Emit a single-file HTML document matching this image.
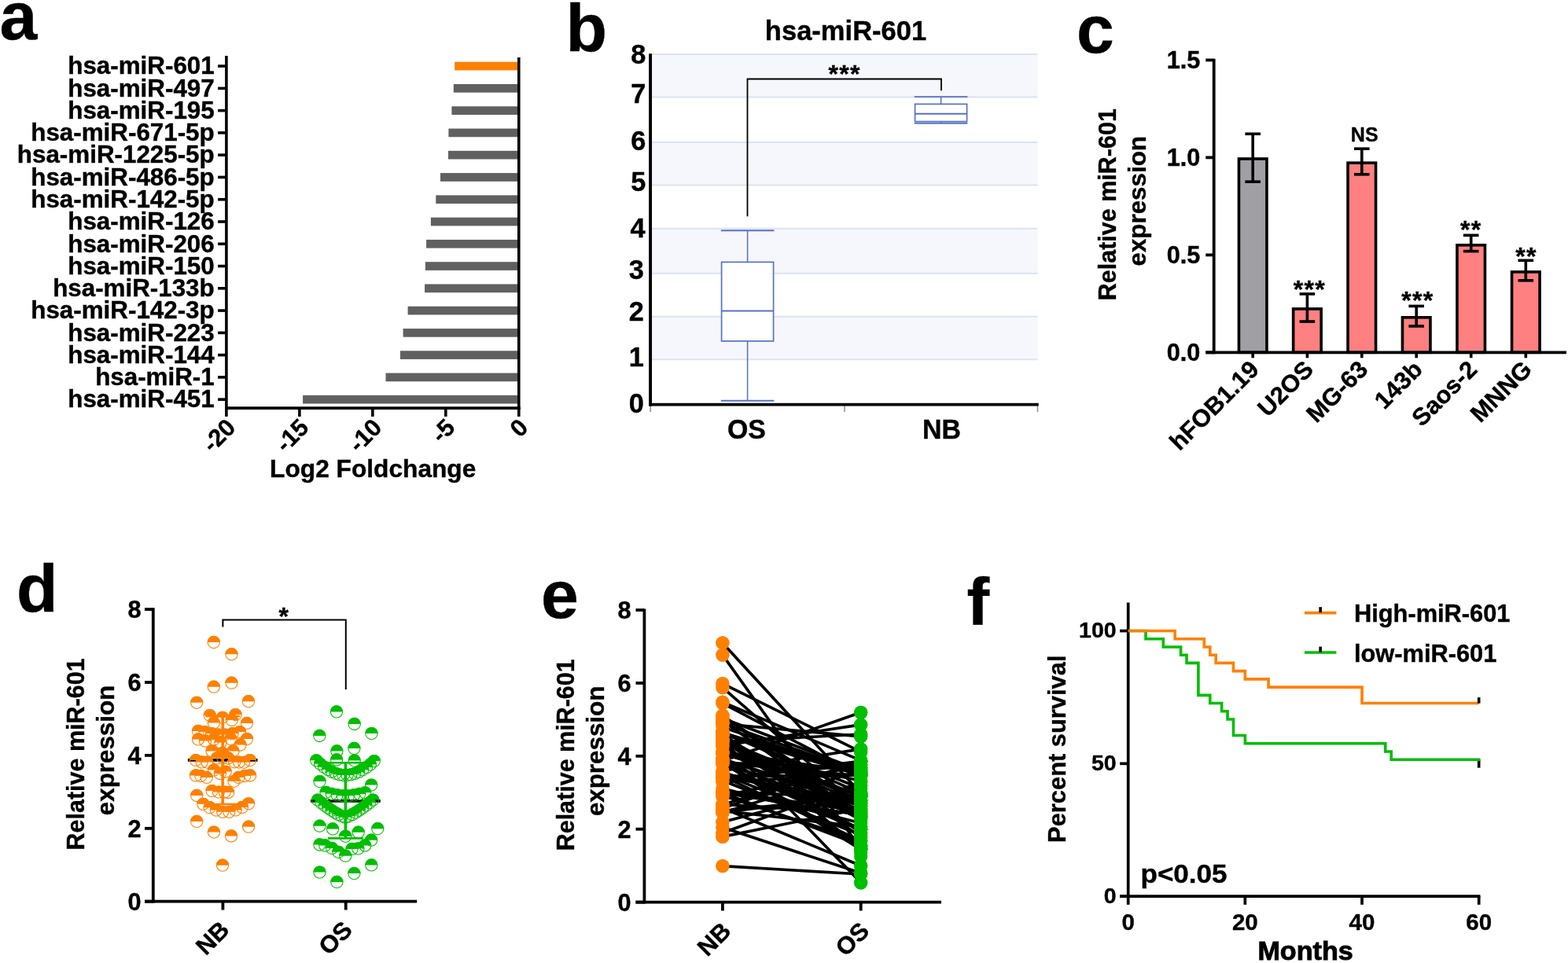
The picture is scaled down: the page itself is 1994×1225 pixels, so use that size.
<!DOCTYPE html>
<html lang="en">
<head>
<meta charset="utf-8">
<title>miR-601 expression in osteosarcoma</title>
<style>
html,body{margin:0;padding:0;background:#fff;}
body{width:1994px;height:1225px;overflow:hidden;}
svg{display:block;}
svg text{font-family:'Liberation Sans', Arial, Helvetica, sans-serif;font-weight:bold;fill:#000;}
</style>
</head>
<body>
<svg width="1994" height="1225" viewBox="0 0 1994 1225">
<rect width="1994" height="1225" fill="#fff"/>
<text x="-0.5" y="49.8" font-size="86" stroke="#000" stroke-width="0.4">a</text>
<text x="719.5" y="65" font-size="86" stroke="#000" stroke-width="0.4">b</text>
<text x="1369" y="67.2" font-size="86" stroke="#000" stroke-width="0.4">c</text>
<text x="21" y="778" font-size="86" stroke="#000" stroke-width="0.4">d</text>
<text x="688" y="786.2" font-size="86" stroke="#000" stroke-width="0.4">e</text>
<text x="1229.5" y="795" font-size="86" stroke="#000" stroke-width="0.4">f</text>
<g id="pa">
<rect x="578.2" y="78.75" width="81.6" height="10.7" fill="#ff8000"/>
<line x1="277.1" y1="84.1" x2="287.9" y2="84.1" stroke="#000" stroke-width="3.6"/>
<text transform="translate(272.7 94.4) scale(1.0215 1)" font-size="30.7" text-anchor="end" stroke="#000" stroke-width="0.4">hsa-miR-601</text>
<rect x="576.8" y="107.02" width="83" height="10.7" fill="#606060"/>
<line x1="277.1" y1="112.37" x2="287.9" y2="112.37" stroke="#000" stroke-width="3.6"/>
<text transform="translate(272.7 122.67) scale(1.0215 1)" font-size="30.7" text-anchor="end" stroke="#000" stroke-width="0.4">hsa-miR-497</text>
<rect x="574.4" y="135.29" width="85.4" height="10.7" fill="#606060"/>
<line x1="277.1" y1="140.64" x2="287.9" y2="140.64" stroke="#000" stroke-width="3.6"/>
<text transform="translate(272.7 150.94) scale(1.0215 1)" font-size="30.7" text-anchor="end" stroke="#000" stroke-width="0.4">hsa-miR-195</text>
<rect x="570.4" y="163.56" width="89.4" height="10.7" fill="#606060"/>
<line x1="277.1" y1="168.91" x2="287.9" y2="168.91" stroke="#000" stroke-width="3.6"/>
<text transform="translate(272.7 179.21) scale(1.0215 1)" font-size="30.7" text-anchor="end" stroke="#000" stroke-width="0.4">hsa-miR-671-5p</text>
<rect x="570" y="191.83" width="89.8" height="10.7" fill="#606060"/>
<line x1="277.1" y1="197.18" x2="287.9" y2="197.18" stroke="#000" stroke-width="3.6"/>
<text transform="translate(272.7 207.48) scale(1.0215 1)" font-size="30.7" text-anchor="end" stroke="#000" stroke-width="0.4">hsa-miR-1225-5p</text>
<rect x="560" y="220.1" width="99.8" height="10.7" fill="#606060"/>
<line x1="277.1" y1="225.45" x2="287.9" y2="225.45" stroke="#000" stroke-width="3.6"/>
<text transform="translate(272.7 235.75) scale(1.0215 1)" font-size="30.7" text-anchor="end" stroke="#000" stroke-width="0.4">hsa-miR-486-5p</text>
<rect x="554.3" y="248.37" width="105.5" height="10.7" fill="#606060"/>
<line x1="277.1" y1="253.72" x2="287.9" y2="253.72" stroke="#000" stroke-width="3.6"/>
<text transform="translate(272.7 264.02) scale(1.0215 1)" font-size="30.7" text-anchor="end" stroke="#000" stroke-width="0.4">hsa-miR-142-5p</text>
<rect x="547.9" y="276.64" width="111.9" height="10.7" fill="#606060"/>
<line x1="277.1" y1="281.99" x2="287.9" y2="281.99" stroke="#000" stroke-width="3.6"/>
<text transform="translate(272.7 292.29) scale(1.0215 1)" font-size="30.7" text-anchor="end" stroke="#000" stroke-width="0.4">hsa-miR-126</text>
<rect x="542.1" y="304.91" width="117.7" height="10.7" fill="#606060"/>
<line x1="277.1" y1="310.26" x2="287.9" y2="310.26" stroke="#000" stroke-width="3.6"/>
<text transform="translate(272.7 320.56) scale(1.0215 1)" font-size="30.7" text-anchor="end" stroke="#000" stroke-width="0.4">hsa-miR-206</text>
<rect x="540.9" y="333.18" width="118.9" height="10.7" fill="#606060"/>
<line x1="277.1" y1="338.53" x2="287.9" y2="338.53" stroke="#000" stroke-width="3.6"/>
<text transform="translate(272.7 348.83) scale(1.0215 1)" font-size="30.7" text-anchor="end" stroke="#000" stroke-width="0.4">hsa-miR-150</text>
<rect x="540.1" y="361.45" width="119.7" height="10.7" fill="#606060"/>
<line x1="277.1" y1="366.8" x2="287.9" y2="366.8" stroke="#000" stroke-width="3.6"/>
<text transform="translate(272.7 377.1) scale(1.0215 1)" font-size="30.7" text-anchor="end" stroke="#000" stroke-width="0.4">hsa-miR-133b</text>
<rect x="518.6" y="389.72" width="141.2" height="10.7" fill="#606060"/>
<line x1="277.1" y1="395.07" x2="287.9" y2="395.07" stroke="#000" stroke-width="3.6"/>
<text transform="translate(272.7 405.37) scale(1.0215 1)" font-size="30.7" text-anchor="end" stroke="#000" stroke-width="0.4">hsa-miR-142-3p</text>
<rect x="512.6" y="417.99" width="147.2" height="10.7" fill="#606060"/>
<line x1="277.1" y1="423.34" x2="287.9" y2="423.34" stroke="#000" stroke-width="3.6"/>
<text transform="translate(272.7 433.64) scale(1.0215 1)" font-size="30.7" text-anchor="end" stroke="#000" stroke-width="0.4">hsa-miR-223</text>
<rect x="509" y="446.26" width="150.8" height="10.7" fill="#606060"/>
<line x1="277.1" y1="451.61" x2="287.9" y2="451.61" stroke="#000" stroke-width="3.6"/>
<text transform="translate(272.7 461.91) scale(1.0215 1)" font-size="30.7" text-anchor="end" stroke="#000" stroke-width="0.4">hsa-miR-144</text>
<rect x="490.5" y="474.53" width="169.3" height="10.7" fill="#606060"/>
<line x1="277.1" y1="479.88" x2="287.9" y2="479.88" stroke="#000" stroke-width="3.6"/>
<text transform="translate(272.7 490.18) scale(1.0215 1)" font-size="30.7" text-anchor="end" stroke="#000" stroke-width="0.4">hsa-miR-1</text>
<rect x="385.1" y="502.8" width="274.7" height="10.7" fill="#606060"/>
<line x1="277.1" y1="508.15" x2="287.9" y2="508.15" stroke="#000" stroke-width="3.6"/>
<text transform="translate(272.7 518.45) scale(1.0215 1)" font-size="30.7" text-anchor="end" stroke="#000" stroke-width="0.4">hsa-miR-451</text>
<line x1="287.9" y1="71" x2="287.9" y2="520.9" stroke="#000" stroke-width="3.6"/>
<line x1="659.8" y1="73" x2="659.8" y2="520.9" stroke="#000" stroke-width="3.6"/>
<line x1="286.1" y1="519.1" x2="661.6" y2="519.1" stroke="#000" stroke-width="3.6"/>
<line x1="287.9" y1="519.1" x2="287.9" y2="529.9" stroke="#000" stroke-width="3.6"/>
<text transform="translate(301.4 545.6) rotate(-45)" font-size="30.7" text-anchor="end" stroke="#000" stroke-width="0.4">-20</text>
<line x1="380.88" y1="519.1" x2="380.88" y2="529.9" stroke="#000" stroke-width="3.6"/>
<text transform="translate(394.38 545.6) rotate(-45)" font-size="30.7" text-anchor="end" stroke="#000" stroke-width="0.4">-15</text>
<line x1="473.85" y1="519.1" x2="473.85" y2="529.9" stroke="#000" stroke-width="3.6"/>
<text transform="translate(487.35 545.6) rotate(-45)" font-size="30.7" text-anchor="end" stroke="#000" stroke-width="0.4">-10</text>
<line x1="566.82" y1="519.1" x2="566.82" y2="529.9" stroke="#000" stroke-width="3.6"/>
<text transform="translate(580.32 545.6) rotate(-45)" font-size="30.7" text-anchor="end" stroke="#000" stroke-width="0.4">-5</text>
<line x1="659.8" y1="519.1" x2="659.8" y2="529.9" stroke="#000" stroke-width="3.6"/>
<text transform="translate(673.3 545.6) rotate(-45)" font-size="30.7" text-anchor="end" stroke="#000" stroke-width="0.4">0</text>
<text transform="translate(474.2 606.9) scale(1.0320 1)" font-size="30.7" text-anchor="middle" stroke="#000" stroke-width="0.4">Log2 Foldchange</text>
</g>
<g id="pb">
<rect x="829" y="68.9" width="490.5" height="54.7" fill="#f6f7fc"/>
<rect x="829" y="181.1" width="490.5" height="54.4" fill="#f6f7fc"/>
<rect x="829" y="290.8" width="490.5" height="56.9" fill="#f6f7fc"/>
<rect x="829" y="402.7" width="490.5" height="54.5" fill="#f6f7fc"/>
<line x1="829" y1="68.9" x2="1319.5" y2="68.9" stroke="#dde2f0" stroke-width="2"/>
<line x1="829" y1="123.6" x2="1319.5" y2="123.6" stroke="#dde2f0" stroke-width="2"/>
<line x1="829" y1="181.1" x2="1319.5" y2="181.1" stroke="#dde2f0" stroke-width="2"/>
<line x1="829" y1="235.5" x2="1319.5" y2="235.5" stroke="#dde2f0" stroke-width="2"/>
<line x1="829" y1="290.8" x2="1319.5" y2="290.8" stroke="#dde2f0" stroke-width="2"/>
<line x1="829" y1="347.7" x2="1319.5" y2="347.7" stroke="#dde2f0" stroke-width="2"/>
<line x1="829" y1="402.7" x2="1319.5" y2="402.7" stroke="#dde2f0" stroke-width="2"/>
<line x1="829" y1="457.2" x2="1319.5" y2="457.2" stroke="#dde2f0" stroke-width="2"/>
<line x1="950.6" y1="293.2" x2="950.6" y2="509.7" stroke="#5572c8" stroke-width="1.53"/>
<rect x="917.6" y="333.4" width="66" height="100.5" fill="#fff" stroke="#5572c8" stroke-width="1.7"/>
<line x1="916.8" y1="293.2" x2="984.4" y2="293.2" stroke="#5572c8" stroke-width="1.95"/>
<line x1="916.8" y1="509.7" x2="984.4" y2="509.7" stroke="#5572c8" stroke-width="1.95"/>
<line x1="917.6" y1="395.4" x2="983.6" y2="395.4" stroke="#5572c8" stroke-width="1.95"/>
<line x1="1196.6" y1="123.1" x2="1196.6" y2="156.8" stroke="#5572c8" stroke-width="1.53"/>
<rect x="1163.6" y="132.4" width="66" height="22.2" fill="#fff" stroke="#5572c8" stroke-width="1.7"/>
<line x1="1162.8" y1="123.1" x2="1230.4" y2="123.1" stroke="#5572c8" stroke-width="1.95"/>
<line x1="1162.8" y1="156.8" x2="1230.4" y2="156.8" stroke="#5572c8" stroke-width="1.95"/>
<line x1="1163.6" y1="144.8" x2="1229.6" y2="144.8" stroke="#5572c8" stroke-width="1.95"/>
<path d="M950.5,275.3 V100.5 H1197 V115.3" stroke="#000" stroke-width="1.8" fill="none"/>
<text x="1074.1" y="104.9" font-size="32" text-anchor="middle" stroke="#000" stroke-width="0.4" letter-spacing="1.3">***</text>
<line x1="827.2" y1="514.6" x2="827.2" y2="524.1" stroke="#8a8a8a" stroke-width="1.4"/>
<line x1="1074" y1="514.6" x2="1074" y2="524.1" stroke="#8a8a8a" stroke-width="1.4"/>
<line x1="1319.5" y1="514.6" x2="1319.5" y2="524.1" stroke="#8a8a8a" stroke-width="1.4"/>
<line x1="827.1" y1="68.3" x2="827.1" y2="516.6" stroke="#000" stroke-width="3.9"/>
<line x1="825.2" y1="514.6" x2="1320.7" y2="514.6" stroke="#000" stroke-width="3.9"/>
<text transform="translate(821.3 80.5) scale(0.9650 1)" font-size="35.6" text-anchor="end" stroke="#000" stroke-width="0.4">8</text>
<text transform="translate(821.3 131.2) scale(0.9650 1)" font-size="35.6" text-anchor="end" stroke="#000" stroke-width="0.4">7</text>
<text transform="translate(821.3 190.7) scale(0.9650 1)" font-size="35.6" text-anchor="end" stroke="#000" stroke-width="0.4">6</text>
<text transform="translate(821.3 243.2) scale(0.9650 1)" font-size="35.6" text-anchor="end" stroke="#000" stroke-width="0.4">5</text>
<text transform="translate(820.6 301.7) scale(0.9650 1)" font-size="35.6" text-anchor="end" stroke="#000" stroke-width="0.4">4</text>
<text transform="translate(818.8 355.2) scale(0.9650 1)" font-size="35.6" text-anchor="end" stroke="#000" stroke-width="0.4">3</text>
<text transform="translate(818.8 407.5) scale(0.9650 1)" font-size="35.6" text-anchor="end" stroke="#000" stroke-width="0.4">2</text>
<text transform="translate(818.8 465.9) scale(0.9650 1)" font-size="35.6" text-anchor="end" stroke="#000" stroke-width="0.4">1</text>
<text transform="translate(818.8 525.3) scale(0.9650 1)" font-size="35.6" text-anchor="end" stroke="#000" stroke-width="0.4">0</text>
<text transform="translate(1075.5 51.2) scale(1.0100 1)" font-size="34.2" text-anchor="middle" stroke="#000" stroke-width="0.4">hsa-miR-601</text>
<text transform="translate(949.4 558.1) scale(0.9750 1)" font-size="34.8" text-anchor="middle" stroke="#000" stroke-width="0.4">OS</text>
<text transform="translate(1197.5 558.1) scale(0.9750 1)" font-size="34.8" text-anchor="middle" stroke="#000" stroke-width="0.4">NB</text>
</g>
<g id="pc">
<rect x="1575.45" y="202" width="35.5" height="246.3" fill="#a0a0a4" stroke="#000" stroke-width="3.6"/>
<line x1="1593.2" y1="170.3" x2="1593.2" y2="231.2" stroke="#000" stroke-width="3.6"/>
<line x1="1583.4" y1="170.3" x2="1603" y2="170.3" stroke="#000" stroke-width="3.6"/>
<line x1="1583.4" y1="231.2" x2="1603" y2="231.2" stroke="#000" stroke-width="3.6"/>
<line x1="1593.2" y1="448.3" x2="1593.2" y2="455.3" stroke="#000" stroke-width="3.6"/>
<text transform="translate(1602.7 471.8) rotate(-45) scale(1.0150 1)" font-size="30.7" text-anchor="end" stroke="#000" stroke-width="0.4">hFOB1.19</text>
<rect x="1644.65" y="392.9" width="35.5" height="55.4" fill="#ff8080" stroke="#000" stroke-width="3.6"/>
<line x1="1662.4" y1="373.9" x2="1662.4" y2="409" stroke="#000" stroke-width="3.6"/>
<line x1="1652.6" y1="373.9" x2="1672.2" y2="373.9" stroke="#000" stroke-width="3.6"/>
<line x1="1652.6" y1="409" x2="1672.2" y2="409" stroke="#000" stroke-width="3.6"/>
<line x1="1662.4" y1="448.3" x2="1662.4" y2="455.3" stroke="#000" stroke-width="3.6"/>
<text transform="translate(1671.9 471.8) rotate(-45) scale(1.0150 1)" font-size="30.7" text-anchor="end" stroke="#000" stroke-width="0.4">U2OS</text>
<rect x="1714.05" y="207.2" width="35.5" height="241.1" fill="#ff8080" stroke="#000" stroke-width="3.6"/>
<line x1="1731.8" y1="189.2" x2="1731.8" y2="221.8" stroke="#000" stroke-width="3.6"/>
<line x1="1722" y1="189.2" x2="1741.6" y2="189.2" stroke="#000" stroke-width="3.6"/>
<line x1="1722" y1="221.8" x2="1741.6" y2="221.8" stroke="#000" stroke-width="3.6"/>
<line x1="1731.8" y1="448.3" x2="1731.8" y2="455.3" stroke="#000" stroke-width="3.6"/>
<text transform="translate(1741.3 471.8) rotate(-45) scale(1.0150 1)" font-size="30.7" text-anchor="end" stroke="#000" stroke-width="0.4">MG-63</text>
<rect x="1783.45" y="403.8" width="35.5" height="44.5" fill="#ff8080" stroke="#000" stroke-width="3.6"/>
<line x1="1801.2" y1="389.4" x2="1801.2" y2="414.9" stroke="#000" stroke-width="3.6"/>
<line x1="1791.4" y1="389.4" x2="1811" y2="389.4" stroke="#000" stroke-width="3.6"/>
<line x1="1791.4" y1="414.9" x2="1811" y2="414.9" stroke="#000" stroke-width="3.6"/>
<line x1="1801.2" y1="448.3" x2="1801.2" y2="455.3" stroke="#000" stroke-width="3.6"/>
<text transform="translate(1810.7 471.8) rotate(-45) scale(1.0150 1)" font-size="30.7" text-anchor="end" stroke="#000" stroke-width="0.4">143b</text>
<rect x="1852.95" y="311.8" width="35.5" height="136.5" fill="#ff8080" stroke="#000" stroke-width="3.6"/>
<line x1="1870.7" y1="299.3" x2="1870.7" y2="319.6" stroke="#000" stroke-width="3.6"/>
<line x1="1860.9" y1="299.3" x2="1880.5" y2="299.3" stroke="#000" stroke-width="3.6"/>
<line x1="1860.9" y1="319.6" x2="1880.5" y2="319.6" stroke="#000" stroke-width="3.6"/>
<line x1="1870.7" y1="448.3" x2="1870.7" y2="455.3" stroke="#000" stroke-width="3.6"/>
<text transform="translate(1880.2 471.8) rotate(-45) scale(1.0150 1)" font-size="30.7" text-anchor="end" stroke="#000" stroke-width="0.4">Saos-2</text>
<rect x="1922.55" y="345.9" width="35.5" height="102.4" fill="#ff8080" stroke="#000" stroke-width="3.6"/>
<line x1="1940.3" y1="331.3" x2="1940.3" y2="356.8" stroke="#000" stroke-width="3.6"/>
<line x1="1930.5" y1="331.3" x2="1950.1" y2="331.3" stroke="#000" stroke-width="3.6"/>
<line x1="1930.5" y1="356.8" x2="1950.1" y2="356.8" stroke="#000" stroke-width="3.6"/>
<line x1="1940.3" y1="448.3" x2="1940.3" y2="455.3" stroke="#000" stroke-width="3.6"/>
<text transform="translate(1949.8 471.8) rotate(-45) scale(1.0150 1)" font-size="30.7" text-anchor="end" stroke="#000" stroke-width="0.4">MNNG</text>
<text x="1665.4" y="379.4" font-size="32" text-anchor="middle" stroke="#000" stroke-width="0.4" letter-spacing="1.3">***</text>
<text x="1735.2" y="180" font-size="25" text-anchor="middle" stroke="#000" stroke-width="0.4">NS</text>
<text x="1802.8" y="392.8" font-size="32" text-anchor="middle" stroke="#000" stroke-width="0.4" letter-spacing="1.3">***</text>
<text x="1870.7" y="303.1" font-size="32" text-anchor="middle" stroke="#000" stroke-width="0.4" letter-spacing="1.3">**</text>
<text x="1941" y="336.5" font-size="32" text-anchor="middle" stroke="#000" stroke-width="0.4" letter-spacing="1.3">**</text>
<line x1="1543.7" y1="74.7" x2="1543.7" y2="450.2" stroke="#000" stroke-width="3.8"/>
<line x1="1533.3" y1="448.3" x2="1992" y2="448.3" stroke="#000" stroke-width="3.8"/>
<line x1="1533.3" y1="448.3" x2="1543.7" y2="448.3" stroke="#000" stroke-width="3.8"/>
<text x="1526.3" y="459.3" font-size="30.7" text-anchor="end" stroke="#000" stroke-width="0.4">0.0</text>
<line x1="1533.3" y1="324.35" x2="1543.7" y2="324.35" stroke="#000" stroke-width="3.8"/>
<text x="1526.3" y="335.35" font-size="30.7" text-anchor="end" stroke="#000" stroke-width="0.4">0.5</text>
<line x1="1533.3" y1="200.4" x2="1543.7" y2="200.4" stroke="#000" stroke-width="3.8"/>
<text x="1526.3" y="211.4" font-size="30.7" text-anchor="end" stroke="#000" stroke-width="0.4">1.0</text>
<line x1="1533.3" y1="76.45" x2="1543.7" y2="76.45" stroke="#000" stroke-width="3.8"/>
<text x="1526.3" y="87.45" font-size="30.7" text-anchor="end" stroke="#000" stroke-width="0.4">1.5</text>
<text transform="translate(1419.2 260.2) rotate(-90)" font-size="30.5" text-anchor="middle" stroke="#000" stroke-width="0.4">Relative miR-601</text>
<text transform="translate(1456.7 255.8) rotate(-90) scale(1.0280 1)" font-size="30.5" text-anchor="middle" stroke="#000" stroke-width="0.4">expression</text>
</g>
<g id="pd">
<line x1="238.9" y1="966.9" x2="327.5" y2="966.9" stroke="#000" stroke-width="3.7"/>
<path d="M263.65,817 A8.15,8.15 0 0 1 279.95,817 Z" fill="#ff8000"/><circle cx="271.8" cy="817" r="7.62" fill="none" stroke="#ff8000" stroke-width="1.05"/>
<path d="M286.35,832.2 A8.15,8.15 0 0 1 302.65,832.2 Z" fill="#ff8000"/><circle cx="294.5" cy="832.2" r="7.62" fill="none" stroke="#ff8000" stroke-width="1.05"/>
<path d="M286.35,868.7 A8.15,8.15 0 0 1 302.65,868.7 Z" fill="#ff8000"/><circle cx="294.5" cy="868.7" r="7.62" fill="none" stroke="#ff8000" stroke-width="1.05"/>
<path d="M263.65,873.7 A8.15,8.15 0 0 1 279.95,873.7 Z" fill="#ff8000"/><circle cx="271.8" cy="873.7" r="7.62" fill="none" stroke="#ff8000" stroke-width="1.05"/>
<path d="M242.05,893.8 A8.15,8.15 0 0 1 258.35,893.8 Z" fill="#ff8000"/><circle cx="250.2" cy="893.8" r="7.62" fill="none" stroke="#ff8000" stroke-width="1.05"/>
<path d="M307.85,892.2 A8.15,8.15 0 0 1 324.15,892.2 Z" fill="#ff8000"/><circle cx="316" cy="892.2" r="7.62" fill="none" stroke="#ff8000" stroke-width="1.05"/>
<path d="M258.65,910.1 A8.15,8.15 0 0 1 274.95,910.1 Z" fill="#ff8000"/><circle cx="266.8" cy="910.1" r="7.62" fill="none" stroke="#ff8000" stroke-width="1.05"/>
<path d="M274.85,912.8 A8.15,8.15 0 0 1 291.15,912.8 Z" fill="#ff8000"/><circle cx="283" cy="912.8" r="7.62" fill="none" stroke="#ff8000" stroke-width="1.05"/>
<path d="M291.35,909.1 A8.15,8.15 0 0 1 307.65,909.1 Z" fill="#ff8000"/><circle cx="299.5" cy="909.1" r="7.62" fill="none" stroke="#ff8000" stroke-width="1.05"/>
<path d="M263.75,919.5 A8.15,8.15 0 0 1 280.05,919.5 Z" fill="#ff8000"/><circle cx="271.9" cy="919.5" r="7.62" fill="none" stroke="#ff8000" stroke-width="1.05"/>
<path d="M286.55,916 A8.15,8.15 0 0 1 302.85,916 Z" fill="#ff8000"/><circle cx="294.7" cy="916" r="7.62" fill="none" stroke="#ff8000" stroke-width="1.05"/>
<path d="M305.85,919.9 A8.15,8.15 0 0 1 322.15,919.9 Z" fill="#ff8000"/><circle cx="314" cy="919.9" r="7.62" fill="none" stroke="#ff8000" stroke-width="1.05"/>
<path d="M243.85,930 A8.15,8.15 0 0 1 260.15,930 Z" fill="#ff8000"/><circle cx="252" cy="930" r="7.62" fill="none" stroke="#ff8000" stroke-width="1.05"/>
<path d="M252.35,931.1 A8.15,8.15 0 0 1 268.65,931.1 Z" fill="#ff8000"/><circle cx="260.5" cy="931.1" r="7.62" fill="none" stroke="#ff8000" stroke-width="1.05"/>
<path d="M260.85,933.2 A8.15,8.15 0 0 1 277.15,933.2 Z" fill="#ff8000"/><circle cx="269" cy="933.2" r="7.62" fill="none" stroke="#ff8000" stroke-width="1.05"/>
<path d="M269.25,934.6 A8.15,8.15 0 0 1 285.55,934.6 Z" fill="#ff8000"/><circle cx="277.4" cy="934.6" r="7.62" fill="none" stroke="#ff8000" stroke-width="1.05"/>
<path d="M277.85,934.6 A8.15,8.15 0 0 1 294.15,934.6 Z" fill="#ff8000"/><circle cx="286" cy="934.6" r="7.62" fill="none" stroke="#ff8000" stroke-width="1.05"/>
<path d="M287.35,933.2 A8.15,8.15 0 0 1 303.65,933.2 Z" fill="#ff8000"/><circle cx="295.5" cy="933.2" r="7.62" fill="none" stroke="#ff8000" stroke-width="1.05"/>
<path d="M296.85,931.1 A8.15,8.15 0 0 1 313.15,931.1 Z" fill="#ff8000"/><circle cx="305" cy="931.1" r="7.62" fill="none" stroke="#ff8000" stroke-width="1.05"/>
<path d="M243.85,940.4 A8.15,8.15 0 0 1 260.15,940.4 Z" fill="#ff8000"/><circle cx="252" cy="940.4" r="7.62" fill="none" stroke="#ff8000" stroke-width="1.05"/>
<path d="M252.85,942.5 A8.15,8.15 0 0 1 269.15,942.5 Z" fill="#ff8000"/><circle cx="261" cy="942.5" r="7.62" fill="none" stroke="#ff8000" stroke-width="1.05"/>
<path d="M263.95,940.6 A8.15,8.15 0 0 1 280.25,940.6 Z" fill="#ff8000"/><circle cx="272.1" cy="940.6" r="7.62" fill="none" stroke="#ff8000" stroke-width="1.05"/>
<path d="M272.35,944.5 A8.15,8.15 0 0 1 288.65,944.5 Z" fill="#ff8000"/><circle cx="280.5" cy="944.5" r="7.62" fill="none" stroke="#ff8000" stroke-width="1.05"/>
<path d="M285.25,940.1 A8.15,8.15 0 0 1 301.55,940.1 Z" fill="#ff8000"/><circle cx="293.4" cy="940.1" r="7.62" fill="none" stroke="#ff8000" stroke-width="1.05"/>
<path d="M297.45,947.5 A8.15,8.15 0 0 1 313.75,947.5 Z" fill="#ff8000"/><circle cx="305.6" cy="947.5" r="7.62" fill="none" stroke="#ff8000" stroke-width="1.05"/>
<path d="M305.85,940.1 A8.15,8.15 0 0 1 322.15,940.1 Z" fill="#ff8000"/><circle cx="314" cy="940.1" r="7.62" fill="none" stroke="#ff8000" stroke-width="1.05"/>
<path d="M261.35,955.5 A8.15,8.15 0 0 1 277.65,955.5 Z" fill="#ff8000"/><circle cx="269.5" cy="955.5" r="7.62" fill="none" stroke="#ff8000" stroke-width="1.05"/>
<path d="M288.35,955.5 A8.15,8.15 0 0 1 304.65,955.5 Z" fill="#ff8000"/><circle cx="296.5" cy="955.5" r="7.62" fill="none" stroke="#ff8000" stroke-width="1.05"/>
<path d="M274.85,958 A8.15,8.15 0 0 1 291.15,958 Z" fill="#ff8000"/><circle cx="283" cy="958" r="7.62" fill="none" stroke="#ff8000" stroke-width="1.05"/>
<path d="M240.85,967.1 A8.15,8.15 0 0 1 257.15,967.1 Z" fill="#ff8000"/><circle cx="249" cy="967.1" r="7.62" fill="none" stroke="#ff8000" stroke-width="1.05"/>
<path d="M248.45,969.4 A8.15,8.15 0 0 1 264.75,969.4 Z" fill="#ff8000"/><circle cx="256.6" cy="969.4" r="7.62" fill="none" stroke="#ff8000" stroke-width="1.05"/>
<path d="M255.25,969.6 A8.15,8.15 0 0 1 271.55,969.6 Z" fill="#ff8000"/><circle cx="263.4" cy="969.6" r="7.62" fill="none" stroke="#ff8000" stroke-width="1.05"/>
<path d="M267.65,964.5 A8.15,8.15 0 0 1 283.95,964.5 Z" fill="#ff8000"/><circle cx="275.8" cy="964.5" r="7.62" fill="none" stroke="#ff8000" stroke-width="1.05"/>
<path d="M275.05,963.8 A8.15,8.15 0 0 1 291.35,963.8 Z" fill="#ff8000"/><circle cx="283.2" cy="963.8" r="7.62" fill="none" stroke="#ff8000" stroke-width="1.05"/>
<path d="M282.05,964.5 A8.15,8.15 0 0 1 298.35,964.5 Z" fill="#ff8000"/><circle cx="290.2" cy="964.5" r="7.62" fill="none" stroke="#ff8000" stroke-width="1.05"/>
<path d="M290.05,969.3 A8.15,8.15 0 0 1 306.35,969.3 Z" fill="#ff8000"/><circle cx="298.2" cy="969.3" r="7.62" fill="none" stroke="#ff8000" stroke-width="1.05"/>
<path d="M295.85,969.6 A8.15,8.15 0 0 1 312.15,969.6 Z" fill="#ff8000"/><circle cx="304" cy="969.6" r="7.62" fill="none" stroke="#ff8000" stroke-width="1.05"/>
<path d="M302.05,969.8 A8.15,8.15 0 0 1 318.35,969.8 Z" fill="#ff8000"/><circle cx="310.2" cy="969.8" r="7.62" fill="none" stroke="#ff8000" stroke-width="1.05"/>
<path d="M309.65,967.1 A8.15,8.15 0 0 1 325.95,967.1 Z" fill="#ff8000"/><circle cx="317.8" cy="967.1" r="7.62" fill="none" stroke="#ff8000" stroke-width="1.05"/>
<path d="M263.85,979.6 A8.15,8.15 0 0 1 280.15,979.6 Z" fill="#ff8000"/><circle cx="272" cy="979.6" r="7.62" fill="none" stroke="#ff8000" stroke-width="1.05"/>
<path d="M271.75,984 A8.15,8.15 0 0 1 288.05,984 Z" fill="#ff8000"/><circle cx="279.9" cy="984" r="7.62" fill="none" stroke="#ff8000" stroke-width="1.05"/>
<path d="M278.55,981.6 A8.15,8.15 0 0 1 294.85,981.6 Z" fill="#ff8000"/><circle cx="286.7" cy="981.6" r="7.62" fill="none" stroke="#ff8000" stroke-width="1.05"/>
<path d="M240.85,986.5 A8.15,8.15 0 0 1 257.15,986.5 Z" fill="#ff8000"/><circle cx="249" cy="986.5" r="7.62" fill="none" stroke="#ff8000" stroke-width="1.05"/>
<path d="M247.25,987 A8.15,8.15 0 0 1 263.55,987 Z" fill="#ff8000"/><circle cx="255.4" cy="987" r="7.62" fill="none" stroke="#ff8000" stroke-width="1.05"/>
<path d="M254.55,988.9 A8.15,8.15 0 0 1 270.85,988.9 Z" fill="#ff8000"/><circle cx="262.7" cy="988.9" r="7.62" fill="none" stroke="#ff8000" stroke-width="1.05"/>
<path d="M289.35,993.8 A8.15,8.15 0 0 1 305.65,993.8 Z" fill="#ff8000"/><circle cx="297.5" cy="993.8" r="7.62" fill="none" stroke="#ff8000" stroke-width="1.05"/>
<path d="M295.25,988.9 A8.15,8.15 0 0 1 311.55,988.9 Z" fill="#ff8000"/><circle cx="303.4" cy="988.9" r="7.62" fill="none" stroke="#ff8000" stroke-width="1.05"/>
<path d="M303.05,987 A8.15,8.15 0 0 1 319.35,987 Z" fill="#ff8000"/><circle cx="311.2" cy="987" r="7.62" fill="none" stroke="#ff8000" stroke-width="1.05"/>
<path d="M309.95,986.5 A8.15,8.15 0 0 1 326.25,986.5 Z" fill="#ff8000"/><circle cx="318.1" cy="986.5" r="7.62" fill="none" stroke="#ff8000" stroke-width="1.05"/>
<path d="M261.45,1006.1 A8.15,8.15 0 0 1 277.75,1006.1 Z" fill="#ff8000"/><circle cx="269.6" cy="1006.1" r="7.62" fill="none" stroke="#ff8000" stroke-width="1.05"/>
<path d="M269.75,1007.6 A8.15,8.15 0 0 1 286.05,1007.6 Z" fill="#ff8000"/><circle cx="277.9" cy="1007.6" r="7.62" fill="none" stroke="#ff8000" stroke-width="1.05"/>
<path d="M277.55,1007.6 A8.15,8.15 0 0 1 293.85,1007.6 Z" fill="#ff8000"/><circle cx="285.7" cy="1007.6" r="7.62" fill="none" stroke="#ff8000" stroke-width="1.05"/>
<path d="M281.95,1008 A8.15,8.15 0 0 1 298.25,1008 Z" fill="#ff8000"/><circle cx="290.1" cy="1008" r="7.62" fill="none" stroke="#ff8000" stroke-width="1.05"/>
<path d="M242.05,1012 A8.15,8.15 0 0 1 258.35,1012 Z" fill="#ff8000"/><circle cx="250.2" cy="1012" r="7.62" fill="none" stroke="#ff8000" stroke-width="1.05"/>
<path d="M250.25,1022.8 A8.15,8.15 0 0 1 266.55,1022.8 Z" fill="#ff8000"/><circle cx="258.4" cy="1022.8" r="7.62" fill="none" stroke="#ff8000" stroke-width="1.05"/>
<path d="M258.49,1027.17 A8.15,8.15 0 0 1 274.79,1027.17 Z" fill="#ff8000"/><circle cx="266.64" cy="1027.17" r="7.62" fill="none" stroke="#ff8000" stroke-width="1.05"/>
<path d="M266.74,1030.59 A8.15,8.15 0 0 1 283.04,1030.59 Z" fill="#ff8000"/><circle cx="274.89" cy="1030.59" r="7.62" fill="none" stroke="#ff8000" stroke-width="1.05"/>
<path d="M274.98,1032.83 A8.15,8.15 0 0 1 291.28,1032.83 Z" fill="#ff8000"/><circle cx="283.13" cy="1032.83" r="7.62" fill="none" stroke="#ff8000" stroke-width="1.05"/>
<path d="M283.22,1032.81 A8.15,8.15 0 0 1 299.52,1032.81 Z" fill="#ff8000"/><circle cx="291.37" cy="1032.81" r="7.62" fill="none" stroke="#ff8000" stroke-width="1.05"/>
<path d="M291.46,1030.46 A8.15,8.15 0 0 1 307.76,1030.46 Z" fill="#ff8000"/><circle cx="299.61" cy="1030.46" r="7.62" fill="none" stroke="#ff8000" stroke-width="1.05"/>
<path d="M299.71,1026.88 A8.15,8.15 0 0 1 316.01,1026.88 Z" fill="#ff8000"/><circle cx="307.86" cy="1026.88" r="7.62" fill="none" stroke="#ff8000" stroke-width="1.05"/>
<path d="M307.95,1022.3 A8.15,8.15 0 0 1 324.25,1022.3 Z" fill="#ff8000"/><circle cx="316.1" cy="1022.3" r="7.62" fill="none" stroke="#ff8000" stroke-width="1.05"/>
<path d="M242.05,1044.9 A8.15,8.15 0 0 1 258.35,1044.9 Z" fill="#ff8000"/><circle cx="250.2" cy="1044.9" r="7.62" fill="none" stroke="#ff8000" stroke-width="1.05"/>
<path d="M263.85,1058.6 A8.15,8.15 0 0 1 280.15,1058.6 Z" fill="#ff8000"/><circle cx="272" cy="1058.6" r="7.62" fill="none" stroke="#ff8000" stroke-width="1.05"/>
<path d="M285.95,1063.5 A8.15,8.15 0 0 1 302.25,1063.5 Z" fill="#ff8000"/><circle cx="294.1" cy="1063.5" r="7.62" fill="none" stroke="#ff8000" stroke-width="1.05"/>
<path d="M307.95,1051.7 A8.15,8.15 0 0 1 324.25,1051.7 Z" fill="#ff8000"/><circle cx="316.1" cy="1051.7" r="7.62" fill="none" stroke="#ff8000" stroke-width="1.05"/>
<path d="M274.85,1100.7 A8.15,8.15 0 0 1 291.15,1100.7 Z" fill="#ff8000"/><circle cx="283" cy="1100.7" r="7.62" fill="none" stroke="#ff8000" stroke-width="1.05"/>
<line x1="283.2" y1="911" x2="283.2" y2="1023" stroke="#ff8000" stroke-width="3.7"/>
<line x1="261.2" y1="911" x2="305.2" y2="911" stroke="#ff8000" stroke-width="2.6"/>
<line x1="261.2" y1="1023" x2="305.2" y2="1023" stroke="#ff8000" stroke-width="2.6"/>
<line x1="395" y1="1018.8" x2="483.8" y2="1018.8" stroke="#000" stroke-width="3.7"/>
<path d="M419.85,905.4 A8.15,8.15 0 0 1 436.15,905.4 Z" fill="#00be00"/><circle cx="428" cy="905.4" r="7.62" fill="none" stroke="#00be00" stroke-width="1.05"/>
<path d="M442.55,921 A8.15,8.15 0 0 1 458.85,921 Z" fill="#00be00"/><circle cx="450.7" cy="921" r="7.62" fill="none" stroke="#00be00" stroke-width="1.05"/>
<path d="M464.35,933.1 A8.15,8.15 0 0 1 480.65,933.1 Z" fill="#00be00"/><circle cx="472.5" cy="933.1" r="7.62" fill="none" stroke="#00be00" stroke-width="1.05"/>
<path d="M398.15,936 A8.15,8.15 0 0 1 414.45,936 Z" fill="#00be00"/><circle cx="406.3" cy="936" r="7.62" fill="none" stroke="#00be00" stroke-width="1.05"/>
<path d="M420.25,955.5 A8.15,8.15 0 0 1 436.55,955.5 Z" fill="#00be00"/><circle cx="428.4" cy="955.5" r="7.62" fill="none" stroke="#00be00" stroke-width="1.05"/>
<path d="M442.25,952 A8.15,8.15 0 0 1 458.55,952 Z" fill="#00be00"/><circle cx="450.4" cy="952" r="7.62" fill="none" stroke="#00be00" stroke-width="1.05"/>
<path d="M419.95,966.5 A8.15,8.15 0 0 1 436.25,966.5 Z" fill="#00be00"/><circle cx="428.1" cy="966.5" r="7.62" fill="none" stroke="#00be00" stroke-width="1.05"/>
<path d="M442.55,967.6 A8.15,8.15 0 0 1 458.85,967.6 Z" fill="#00be00"/><circle cx="450.7" cy="967.6" r="7.62" fill="none" stroke="#00be00" stroke-width="1.05"/>
<path d="M394.15,967.3 A8.15,8.15 0 0 1 410.45,967.3 Z" fill="#00be00"/><circle cx="402.3" cy="967.3" r="7.62" fill="none" stroke="#00be00" stroke-width="1.05"/>
<path d="M399.05,971.8 A8.15,8.15 0 0 1 415.35,971.8 Z" fill="#00be00"/><circle cx="407.2" cy="971.8" r="7.62" fill="none" stroke="#00be00" stroke-width="1.05"/>
<path d="M403.95,975.72 A8.15,8.15 0 0 1 420.25,975.72 Z" fill="#00be00"/><circle cx="412.1" cy="975.72" r="7.62" fill="none" stroke="#00be00" stroke-width="1.05"/>
<path d="M408.85,979.04 A8.15,8.15 0 0 1 425.15,979.04 Z" fill="#00be00"/><circle cx="417" cy="979.04" r="7.62" fill="none" stroke="#00be00" stroke-width="1.05"/>
<path d="M413.75,981.76 A8.15,8.15 0 0 1 430.05,981.76 Z" fill="#00be00"/><circle cx="421.9" cy="981.76" r="7.62" fill="none" stroke="#00be00" stroke-width="1.05"/>
<path d="M418.65,983.86 A8.15,8.15 0 0 1 434.95,983.86 Z" fill="#00be00"/><circle cx="426.8" cy="983.86" r="7.62" fill="none" stroke="#00be00" stroke-width="1.05"/>
<path d="M423.55,985.31 A8.15,8.15 0 0 1 439.85,985.31 Z" fill="#00be00"/><circle cx="431.7" cy="985.31" r="7.62" fill="none" stroke="#00be00" stroke-width="1.05"/>
<path d="M428.45,986.09 A8.15,8.15 0 0 1 444.75,986.09 Z" fill="#00be00"/><circle cx="436.6" cy="986.09" r="7.62" fill="none" stroke="#00be00" stroke-width="1.05"/>
<path d="M433.35,986.09 A8.15,8.15 0 0 1 449.65,986.09 Z" fill="#00be00"/><circle cx="441.5" cy="986.09" r="7.62" fill="none" stroke="#00be00" stroke-width="1.05"/>
<path d="M438.25,985.35 A8.15,8.15 0 0 1 454.55,985.35 Z" fill="#00be00"/><circle cx="446.4" cy="985.35" r="7.62" fill="none" stroke="#00be00" stroke-width="1.05"/>
<path d="M443.15,983.96 A8.15,8.15 0 0 1 459.45,983.96 Z" fill="#00be00"/><circle cx="451.3" cy="983.96" r="7.62" fill="none" stroke="#00be00" stroke-width="1.05"/>
<path d="M448.05,981.95 A8.15,8.15 0 0 1 464.35,981.95 Z" fill="#00be00"/><circle cx="456.2" cy="981.95" r="7.62" fill="none" stroke="#00be00" stroke-width="1.05"/>
<path d="M452.95,979.34 A8.15,8.15 0 0 1 469.25,979.34 Z" fill="#00be00"/><circle cx="461.1" cy="979.34" r="7.62" fill="none" stroke="#00be00" stroke-width="1.05"/>
<path d="M457.85,976.16 A8.15,8.15 0 0 1 474.15,976.16 Z" fill="#00be00"/><circle cx="466" cy="976.16" r="7.62" fill="none" stroke="#00be00" stroke-width="1.05"/>
<path d="M462.75,972.41 A8.15,8.15 0 0 1 479.05,972.41 Z" fill="#00be00"/><circle cx="470.9" cy="972.41" r="7.62" fill="none" stroke="#00be00" stroke-width="1.05"/>
<path d="M467.65,968.1 A8.15,8.15 0 0 1 483.95,968.1 Z" fill="#00be00"/><circle cx="475.8" cy="968.1" r="7.62" fill="none" stroke="#00be00" stroke-width="1.05"/>
<path d="M398.35,994.1 A8.15,8.15 0 0 1 414.65,994.1 Z" fill="#00be00"/><circle cx="406.5" cy="994.1" r="7.62" fill="none" stroke="#00be00" stroke-width="1.05"/>
<path d="M464.05,998.6 A8.15,8.15 0 0 1 480.35,998.6 Z" fill="#00be00"/><circle cx="472.2" cy="998.6" r="7.62" fill="none" stroke="#00be00" stroke-width="1.05"/>
<path d="M406.45,1008 A8.15,8.15 0 0 1 422.75,1008 Z" fill="#00be00"/><circle cx="414.6" cy="1008" r="7.62" fill="none" stroke="#00be00" stroke-width="1.05"/>
<path d="M413.54,1009.82 A8.15,8.15 0 0 1 429.84,1009.82 Z" fill="#00be00"/><circle cx="421.69" cy="1009.82" r="7.62" fill="none" stroke="#00be00" stroke-width="1.05"/>
<path d="M420.62,1011.31 A8.15,8.15 0 0 1 436.92,1011.31 Z" fill="#00be00"/><circle cx="428.77" cy="1011.31" r="7.62" fill="none" stroke="#00be00" stroke-width="1.05"/>
<path d="M427.71,1012.35 A8.15,8.15 0 0 1 444.01,1012.35 Z" fill="#00be00"/><circle cx="435.86" cy="1012.35" r="7.62" fill="none" stroke="#00be00" stroke-width="1.05"/>
<path d="M434.79,1012.37 A8.15,8.15 0 0 1 451.09,1012.37 Z" fill="#00be00"/><circle cx="442.94" cy="1012.37" r="7.62" fill="none" stroke="#00be00" stroke-width="1.05"/>
<path d="M441.88,1011.39 A8.15,8.15 0 0 1 458.18,1011.39 Z" fill="#00be00"/><circle cx="450.03" cy="1011.39" r="7.62" fill="none" stroke="#00be00" stroke-width="1.05"/>
<path d="M448.96,1010 A8.15,8.15 0 0 1 465.26,1010 Z" fill="#00be00"/><circle cx="457.11" cy="1010" r="7.62" fill="none" stroke="#00be00" stroke-width="1.05"/>
<path d="M456.05,1008.3 A8.15,8.15 0 0 1 472.35,1008.3 Z" fill="#00be00"/><circle cx="464.2" cy="1008.3" r="7.62" fill="none" stroke="#00be00" stroke-width="1.05"/>
<path d="M395.85,1017.6 A8.15,8.15 0 0 1 412.15,1017.6 Z" fill="#00be00"/><circle cx="404" cy="1017.6" r="7.62" fill="none" stroke="#00be00" stroke-width="1.05"/>
<path d="M400.24,1021.14 A8.15,8.15 0 0 1 416.54,1021.14 Z" fill="#00be00"/><circle cx="408.39" cy="1021.14" r="7.62" fill="none" stroke="#00be00" stroke-width="1.05"/>
<path d="M404.64,1024.53 A8.15,8.15 0 0 1 420.94,1024.53 Z" fill="#00be00"/><circle cx="412.79" cy="1024.53" r="7.62" fill="none" stroke="#00be00" stroke-width="1.05"/>
<path d="M409.03,1027.75 A8.15,8.15 0 0 1 425.33,1027.75 Z" fill="#00be00"/><circle cx="417.18" cy="1027.75" r="7.62" fill="none" stroke="#00be00" stroke-width="1.05"/>
<path d="M413.43,1030.78 A8.15,8.15 0 0 1 429.72,1030.78 Z" fill="#00be00"/><circle cx="421.57" cy="1030.78" r="7.62" fill="none" stroke="#00be00" stroke-width="1.05"/>
<path d="M417.82,1033.6 A8.15,8.15 0 0 1 434.12,1033.6 Z" fill="#00be00"/><circle cx="425.97" cy="1033.6" r="7.62" fill="none" stroke="#00be00" stroke-width="1.05"/>
<path d="M422.21,1036.14 A8.15,8.15 0 0 1 438.51,1036.14 Z" fill="#00be00"/><circle cx="430.36" cy="1036.14" r="7.62" fill="none" stroke="#00be00" stroke-width="1.05"/>
<path d="M426.61,1038.31 A8.15,8.15 0 0 1 442.91,1038.31 Z" fill="#00be00"/><circle cx="434.76" cy="1038.31" r="7.62" fill="none" stroke="#00be00" stroke-width="1.05"/>
<path d="M431,1039.8 A8.15,8.15 0 0 1 447.3,1039.8 Z" fill="#00be00"/><circle cx="439.15" cy="1039.8" r="7.62" fill="none" stroke="#00be00" stroke-width="1.05"/>
<path d="M435.39,1038.31 A8.15,8.15 0 0 1 451.69,1038.31 Z" fill="#00be00"/><circle cx="443.54" cy="1038.31" r="7.62" fill="none" stroke="#00be00" stroke-width="1.05"/>
<path d="M439.79,1036.14 A8.15,8.15 0 0 1 456.09,1036.14 Z" fill="#00be00"/><circle cx="447.94" cy="1036.14" r="7.62" fill="none" stroke="#00be00" stroke-width="1.05"/>
<path d="M444.18,1033.6 A8.15,8.15 0 0 1 460.48,1033.6 Z" fill="#00be00"/><circle cx="452.33" cy="1033.6" r="7.62" fill="none" stroke="#00be00" stroke-width="1.05"/>
<path d="M448.58,1030.78 A8.15,8.15 0 0 1 464.88,1030.78 Z" fill="#00be00"/><circle cx="456.73" cy="1030.78" r="7.62" fill="none" stroke="#00be00" stroke-width="1.05"/>
<path d="M452.97,1027.75 A8.15,8.15 0 0 1 469.27,1027.75 Z" fill="#00be00"/><circle cx="461.12" cy="1027.75" r="7.62" fill="none" stroke="#00be00" stroke-width="1.05"/>
<path d="M457.36,1024.53 A8.15,8.15 0 0 1 473.66,1024.53 Z" fill="#00be00"/><circle cx="465.51" cy="1024.53" r="7.62" fill="none" stroke="#00be00" stroke-width="1.05"/>
<path d="M461.76,1021.14 A8.15,8.15 0 0 1 478.06,1021.14 Z" fill="#00be00"/><circle cx="469.91" cy="1021.14" r="7.62" fill="none" stroke="#00be00" stroke-width="1.05"/>
<path d="M466.15,1017.6 A8.15,8.15 0 0 1 482.45,1017.6 Z" fill="#00be00"/><circle cx="474.3" cy="1017.6" r="7.62" fill="none" stroke="#00be00" stroke-width="1.05"/>
<path d="M398.35,1050.7 A8.15,8.15 0 0 1 414.65,1050.7 Z" fill="#00be00"/><circle cx="406.5" cy="1050.7" r="7.62" fill="none" stroke="#00be00" stroke-width="1.05"/>
<path d="M414.95,1054.4 A8.15,8.15 0 0 1 431.25,1054.4 Z" fill="#00be00"/><circle cx="423.1" cy="1054.4" r="7.62" fill="none" stroke="#00be00" stroke-width="1.05"/>
<path d="M431.15,1063.8 A8.15,8.15 0 0 1 447.45,1063.8 Z" fill="#00be00"/><circle cx="439.3" cy="1063.8" r="7.62" fill="none" stroke="#00be00" stroke-width="1.05"/>
<path d="M447.55,1058.7 A8.15,8.15 0 0 1 463.85,1058.7 Z" fill="#00be00"/><circle cx="455.7" cy="1058.7" r="7.62" fill="none" stroke="#00be00" stroke-width="1.05"/>
<path d="M472.15,1054.2 A8.15,8.15 0 0 1 488.45,1054.2 Z" fill="#00be00"/><circle cx="480.3" cy="1054.2" r="7.62" fill="none" stroke="#00be00" stroke-width="1.05"/>
<path d="M463.95,1068.7 A8.15,8.15 0 0 1 480.25,1068.7 Z" fill="#00be00"/><circle cx="472.1" cy="1068.7" r="7.62" fill="none" stroke="#00be00" stroke-width="1.05"/>
<path d="M398.25,1074.5 A8.15,8.15 0 0 1 414.55,1074.5 Z" fill="#00be00"/><circle cx="406.4" cy="1074.5" r="7.62" fill="none" stroke="#00be00" stroke-width="1.05"/>
<path d="M405.15,1075.5 A8.15,8.15 0 0 1 421.45,1075.5 Z" fill="#00be00"/><circle cx="413.3" cy="1075.5" r="7.62" fill="none" stroke="#00be00" stroke-width="1.05"/>
<path d="M413.95,1078.9 A8.15,8.15 0 0 1 430.25,1078.9 Z" fill="#00be00"/><circle cx="422.1" cy="1078.9" r="7.62" fill="none" stroke="#00be00" stroke-width="1.05"/>
<path d="M422.25,1083.8 A8.15,8.15 0 0 1 438.55,1083.8 Z" fill="#00be00"/><circle cx="430.4" cy="1083.8" r="7.62" fill="none" stroke="#00be00" stroke-width="1.05"/>
<path d="M431.15,1088.7 A8.15,8.15 0 0 1 447.45,1088.7 Z" fill="#00be00"/><circle cx="439.3" cy="1088.7" r="7.62" fill="none" stroke="#00be00" stroke-width="1.05"/>
<path d="M439.45,1079.9 A8.15,8.15 0 0 1 455.75,1079.9 Z" fill="#00be00"/><circle cx="447.6" cy="1079.9" r="7.62" fill="none" stroke="#00be00" stroke-width="1.05"/>
<path d="M447.25,1079.4 A8.15,8.15 0 0 1 463.55,1079.4 Z" fill="#00be00"/><circle cx="455.4" cy="1079.4" r="7.62" fill="none" stroke="#00be00" stroke-width="1.05"/>
<path d="M456.05,1075.5 A8.15,8.15 0 0 1 472.35,1075.5 Z" fill="#00be00"/><circle cx="464.2" cy="1075.5" r="7.62" fill="none" stroke="#00be00" stroke-width="1.05"/>
<path d="M464.15,1100.4 A8.15,8.15 0 0 1 480.45,1100.4 Z" fill="#00be00"/><circle cx="472.3" cy="1100.4" r="7.62" fill="none" stroke="#00be00" stroke-width="1.05"/>
<path d="M398.35,1109.6 A8.15,8.15 0 0 1 414.65,1109.6 Z" fill="#00be00"/><circle cx="406.5" cy="1109.6" r="7.62" fill="none" stroke="#00be00" stroke-width="1.05"/>
<path d="M442.25,1111.1 A8.15,8.15 0 0 1 458.55,1111.1 Z" fill="#00be00"/><circle cx="450.4" cy="1111.1" r="7.62" fill="none" stroke="#00be00" stroke-width="1.05"/>
<path d="M420.25,1121.9 A8.15,8.15 0 0 1 436.55,1121.9 Z" fill="#00be00"/><circle cx="428.4" cy="1121.9" r="7.62" fill="none" stroke="#00be00" stroke-width="1.05"/>
<line x1="439.4" y1="970.3" x2="439.4" y2="1066.4" stroke="#00be00" stroke-width="3.7"/>
<line x1="417" y1="970.3" x2="461.8" y2="970.3" stroke="#00be00" stroke-width="2.6"/>
<line x1="417" y1="1066.4" x2="461.8" y2="1066.4" stroke="#00be00" stroke-width="2.6"/>
<path d="M283.4,797.4 V788.5 H439.8 V877.1" stroke="#000" stroke-width="2" fill="none"/>
<text x="360.8" y="795.3" font-size="32" text-anchor="middle" stroke="#000" stroke-width="0.4">*</text>
<line x1="194.8" y1="773.3" x2="194.8" y2="1148.6" stroke="#000" stroke-width="3.8"/>
<line x1="184" y1="1146.7" x2="530.2" y2="1146.7" stroke="#000" stroke-width="3.8"/>
<line x1="184" y1="1146.7" x2="194.8" y2="1146.7" stroke="#000" stroke-width="3.8"/>
<text x="179.5" y="1157.7" font-size="30.7" text-anchor="end" stroke="#000" stroke-width="0.4">0</text>
<line x1="184" y1="1053.8" x2="194.8" y2="1053.8" stroke="#000" stroke-width="3.8"/>
<text x="179.5" y="1064.8" font-size="30.7" text-anchor="end" stroke="#000" stroke-width="0.4">2</text>
<line x1="184" y1="960.9" x2="194.8" y2="960.9" stroke="#000" stroke-width="3.8"/>
<text x="179.5" y="971.9" font-size="30.7" text-anchor="end" stroke="#000" stroke-width="0.4">4</text>
<line x1="184" y1="868" x2="194.8" y2="868" stroke="#000" stroke-width="3.8"/>
<text x="179.5" y="879" font-size="30.7" text-anchor="end" stroke="#000" stroke-width="0.4">6</text>
<line x1="184" y1="775.1" x2="194.8" y2="775.1" stroke="#000" stroke-width="3.8"/>
<text x="179.5" y="786.1" font-size="30.7" text-anchor="end" stroke="#000" stroke-width="0.4">8</text>
<line x1="283.4" y1="1146.7" x2="283.4" y2="1157.5" stroke="#000" stroke-width="3.8"/>
<text transform="translate(293.5 1184.7) rotate(-45) scale(1.0150 1)" font-size="30.7" text-anchor="end" stroke="#000" stroke-width="0.4">NB</text>
<line x1="439.7" y1="1146.7" x2="439.7" y2="1157.5" stroke="#000" stroke-width="3.8"/>
<text transform="translate(449.8 1184.7) rotate(-45) scale(1.0150 1)" font-size="30.7" text-anchor="end" stroke="#000" stroke-width="0.4">OS</text>
<text transform="translate(106.6 959.4) rotate(-90)" font-size="30.5" text-anchor="middle" stroke="#000" stroke-width="0.4">Relative miR-601</text>
<text transform="translate(145 954.5) rotate(-90) scale(1.0280 1)" font-size="30.5" text-anchor="middle" stroke="#000" stroke-width="0.4">expression</text>
</g>
<g id="pe">
<line x1="918.9" y1="817.9" x2="1094.7" y2="1008.9" stroke="#000" stroke-width="3.65" stroke-linecap="round"/>
<line x1="918.9" y1="833.1" x2="1094.7" y2="1079.8" stroke="#000" stroke-width="3.65" stroke-linecap="round"/>
<line x1="918.9" y1="869.6" x2="1094.7" y2="956.4" stroke="#000" stroke-width="3.65" stroke-linecap="round"/>
<line x1="918.9" y1="874.6" x2="1094.7" y2="1028.65" stroke="#000" stroke-width="3.65" stroke-linecap="round"/>
<line x1="918.9" y1="893.1" x2="1094.7" y2="967.4" stroke="#000" stroke-width="3.65" stroke-linecap="round"/>
<line x1="918.9" y1="968" x2="1094.7" y2="906.3" stroke="#000" stroke-width="3.65" stroke-linecap="round"/>
<line x1="918.9" y1="948.4" x2="1094.7" y2="921.9" stroke="#000" stroke-width="3.65" stroke-linecap="round"/>
<line x1="918.9" y1="943.4" x2="1094.7" y2="934" stroke="#000" stroke-width="3.65" stroke-linecap="round"/>
<line x1="918.9" y1="1101.6" x2="1094.7" y2="1112" stroke="#000" stroke-width="3.65" stroke-linecap="round"/>
<line x1="918.9" y1="1052.6" x2="1094.7" y2="1110.5" stroke="#000" stroke-width="3.65" stroke-linecap="round"/>
<line x1="918.9" y1="1027.78" x2="1094.7" y2="1101.3" stroke="#000" stroke-width="3.65" stroke-linecap="round"/>
<line x1="918.9" y1="941" x2="1094.7" y2="1122.8" stroke="#000" stroke-width="3.65" stroke-linecap="round"/>
<line x1="918.9" y1="1045.8" x2="1094.7" y2="999.5" stroke="#000" stroke-width="3.65" stroke-linecap="round"/>
<line x1="918.9" y1="1059.5" x2="1094.7" y2="995" stroke="#000" stroke-width="3.65" stroke-linecap="round"/>
<line x1="918.9" y1="1064.4" x2="1094.7" y2="1028.65" stroke="#000" stroke-width="3.65" stroke-linecap="round"/>
<line x1="918.9" y1="894.7" x2="1094.7" y2="986.99" stroke="#000" stroke-width="3.65" stroke-linecap="round"/>
<line x1="918.9" y1="910" x2="1094.7" y2="1039.21" stroke="#000" stroke-width="3.65" stroke-linecap="round"/>
<line x1="918.9" y1="911" x2="1094.7" y2="1025.43" stroke="#000" stroke-width="3.65" stroke-linecap="round"/>
<line x1="918.9" y1="913.7" x2="1094.7" y2="980.24" stroke="#000" stroke-width="3.65" stroke-linecap="round"/>
<line x1="918.9" y1="916.9" x2="1094.7" y2="1040.7" stroke="#000" stroke-width="3.65" stroke-linecap="round"/>
<line x1="918.9" y1="920.4" x2="1094.7" y2="982.66" stroke="#000" stroke-width="3.65" stroke-linecap="round"/>
<line x1="918.9" y1="920.8" x2="1094.7" y2="936.9" stroke="#000" stroke-width="3.65" stroke-linecap="round"/>
<line x1="918.9" y1="930.9" x2="1094.7" y2="1009.2" stroke="#000" stroke-width="3.65" stroke-linecap="round"/>
<line x1="918.9" y1="932" x2="1094.7" y2="984.86" stroke="#000" stroke-width="3.65" stroke-linecap="round"/>
<line x1="918.9" y1="932" x2="1094.7" y2="1080.3" stroke="#000" stroke-width="3.65" stroke-linecap="round"/>
<line x1="918.9" y1="934.1" x2="1094.7" y2="986.25" stroke="#000" stroke-width="3.65" stroke-linecap="round"/>
<line x1="918.9" y1="934.1" x2="1094.7" y2="977.06" stroke="#000" stroke-width="3.65" stroke-linecap="round"/>
<line x1="918.9" y1="935.5" x2="1094.7" y2="1039.21" stroke="#000" stroke-width="3.65" stroke-linecap="round"/>
<line x1="918.9" y1="935.5" x2="1094.7" y2="1059.6" stroke="#000" stroke-width="3.65" stroke-linecap="round"/>
<line x1="918.9" y1="941" x2="1094.7" y2="1031.68" stroke="#000" stroke-width="3.65" stroke-linecap="round"/>
<line x1="918.9" y1="941.3" x2="1094.7" y2="1064.7" stroke="#000" stroke-width="3.65" stroke-linecap="round"/>
<line x1="918.9" y1="941.5" x2="1094.7" y2="1013.25" stroke="#000" stroke-width="3.65" stroke-linecap="round"/>
<line x1="918.9" y1="945.4" x2="1094.7" y2="1022.04" stroke="#000" stroke-width="3.65" stroke-linecap="round"/>
<line x1="918.9" y1="956.4" x2="1094.7" y2="1012.21" stroke="#000" stroke-width="3.65" stroke-linecap="round"/>
<line x1="918.9" y1="956.4" x2="1094.7" y2="982.85" stroke="#000" stroke-width="3.65" stroke-linecap="round"/>
<line x1="918.9" y1="958.9" x2="1094.7" y2="1010.9" stroke="#000" stroke-width="3.65" stroke-linecap="round"/>
<line x1="918.9" y1="964.7" x2="1094.7" y2="1055.3" stroke="#000" stroke-width="3.65" stroke-linecap="round"/>
<line x1="918.9" y1="965.4" x2="1094.7" y2="1025.43" stroke="#000" stroke-width="3.65" stroke-linecap="round"/>
<line x1="918.9" y1="965.4" x2="1094.7" y2="1022.04" stroke="#000" stroke-width="3.65" stroke-linecap="round"/>
<line x1="918.9" y1="968" x2="1094.7" y2="1076.4" stroke="#000" stroke-width="3.65" stroke-linecap="round"/>
<line x1="918.9" y1="970.2" x2="1094.7" y2="1080.8" stroke="#000" stroke-width="3.65" stroke-linecap="round"/>
<line x1="918.9" y1="970.3" x2="1094.7" y2="976.62" stroke="#000" stroke-width="3.65" stroke-linecap="round"/>
<line x1="918.9" y1="970.5" x2="1094.7" y2="1076.4" stroke="#000" stroke-width="3.65" stroke-linecap="round"/>
<line x1="918.9" y1="970.5" x2="1094.7" y2="986.99" stroke="#000" stroke-width="3.65" stroke-linecap="round"/>
<line x1="918.9" y1="970.7" x2="1094.7" y2="1034.5" stroke="#000" stroke-width="3.65" stroke-linecap="round"/>
<line x1="918.9" y1="980.5" x2="1094.7" y2="952.9" stroke="#000" stroke-width="3.65" stroke-linecap="round"/>
<line x1="918.9" y1="982.5" x2="1094.7" y2="1037.04" stroke="#000" stroke-width="3.65" stroke-linecap="round"/>
<line x1="918.9" y1="984.9" x2="1094.7" y2="1055.1" stroke="#000" stroke-width="3.65" stroke-linecap="round"/>
<line x1="918.9" y1="987.4" x2="1094.7" y2="986.21" stroke="#000" stroke-width="3.65" stroke-linecap="round"/>
<line x1="918.9" y1="987.4" x2="1094.7" y2="1069.6" stroke="#000" stroke-width="3.65" stroke-linecap="round"/>
<line x1="918.9" y1="987.9" x2="1094.7" y2="1018.5" stroke="#000" stroke-width="3.65" stroke-linecap="round"/>
<line x1="918.9" y1="987.9" x2="1094.7" y2="1018.5" stroke="#000" stroke-width="3.65" stroke-linecap="round"/>
<line x1="918.9" y1="989.8" x2="1094.7" y2="972.7" stroke="#000" stroke-width="3.65" stroke-linecap="round"/>
<line x1="918.9" y1="989.8" x2="1094.7" y2="968.2" stroke="#000" stroke-width="3.65" stroke-linecap="round"/>
<line x1="918.9" y1="994.7" x2="1094.7" y2="984.76" stroke="#000" stroke-width="3.65" stroke-linecap="round"/>
<line x1="918.9" y1="1007" x2="1094.7" y2="1031.68" stroke="#000" stroke-width="3.65" stroke-linecap="round"/>
<line x1="918.9" y1="1008.5" x2="1094.7" y2="1075.4" stroke="#000" stroke-width="3.65" stroke-linecap="round"/>
<line x1="918.9" y1="1008.5" x2="1094.7" y2="1037.04" stroke="#000" stroke-width="3.65" stroke-linecap="round"/>
<line x1="918.9" y1="1008.9" x2="1094.7" y2="1012.29" stroke="#000" stroke-width="3.65" stroke-linecap="round"/>
<line x1="918.9" y1="1012.9" x2="1094.7" y2="973.31" stroke="#000" stroke-width="3.65" stroke-linecap="round"/>
<line x1="918.9" y1="1023.2" x2="1094.7" y2="1034.5" stroke="#000" stroke-width="3.65" stroke-linecap="round"/>
<line x1="918.9" y1="1023.7" x2="1094.7" y2="969" stroke="#000" stroke-width="3.65" stroke-linecap="round"/>
<line x1="918.9" y1="1028.07" x2="1094.7" y2="968.5" stroke="#000" stroke-width="3.65" stroke-linecap="round"/>
<line x1="918.9" y1="1031.36" x2="1094.7" y2="1051.6" stroke="#000" stroke-width="3.65" stroke-linecap="round"/>
<line x1="918.9" y1="1031.49" x2="1094.7" y2="1013.27" stroke="#000" stroke-width="3.65" stroke-linecap="round"/>
<line x1="918.9" y1="1033.71" x2="1094.7" y2="979.94" stroke="#000" stroke-width="3.65" stroke-linecap="round"/>
<line x1="918.9" y1="1033.73" x2="1094.7" y2="1010.72" stroke="#000" stroke-width="3.65" stroke-linecap="round"/>
<line x1="918.9" y1="932" x2="1094.7" y2="1003" stroke="#000" stroke-width="3.65" stroke-linecap="round"/>
<line x1="918.9" y1="941" x2="1094.7" y2="1018" stroke="#000" stroke-width="3.65" stroke-linecap="round"/>
<line x1="918.9" y1="950" x2="1094.7" y2="1043" stroke="#000" stroke-width="3.65" stroke-linecap="round"/>
<line x1="918.9" y1="958" x2="1094.7" y2="993" stroke="#000" stroke-width="3.65" stroke-linecap="round"/>
<line x1="918.9" y1="972" x2="1094.7" y2="1055" stroke="#000" stroke-width="3.65" stroke-linecap="round"/>
<line x1="918.9" y1="983" x2="1094.7" y2="1032" stroke="#000" stroke-width="3.65" stroke-linecap="round"/>
<line x1="918.9" y1="993" x2="1094.7" y2="1062" stroke="#000" stroke-width="3.65" stroke-linecap="round"/>
<line x1="918.9" y1="1003" x2="1094.7" y2="1047" stroke="#000" stroke-width="3.65" stroke-linecap="round"/>
<line x1="918.9" y1="1012" x2="1094.7" y2="1070" stroke="#000" stroke-width="3.65" stroke-linecap="round"/>
<line x1="918.9" y1="925" x2="1094.7" y2="985" stroke="#000" stroke-width="3.65" stroke-linecap="round"/>
<circle cx="918.9" cy="817.9" r="8.6" fill="#ff8000"/>
<circle cx="1094.7" cy="1008.9" r="8.6" fill="#00be00"/>
<circle cx="918.9" cy="833.1" r="8.6" fill="#ff8000"/>
<circle cx="1094.7" cy="1079.8" r="8.6" fill="#00be00"/>
<circle cx="918.9" cy="869.6" r="8.6" fill="#ff8000"/>
<circle cx="1094.7" cy="956.4" r="8.6" fill="#00be00"/>
<circle cx="918.9" cy="874.6" r="8.6" fill="#ff8000"/>
<circle cx="1094.7" cy="1028.65" r="8.6" fill="#00be00"/>
<circle cx="918.9" cy="893.1" r="8.6" fill="#ff8000"/>
<circle cx="1094.7" cy="967.4" r="8.6" fill="#00be00"/>
<circle cx="918.9" cy="968" r="8.6" fill="#ff8000"/>
<circle cx="1094.7" cy="906.3" r="8.6" fill="#00be00"/>
<circle cx="918.9" cy="948.4" r="8.6" fill="#ff8000"/>
<circle cx="1094.7" cy="921.9" r="8.6" fill="#00be00"/>
<circle cx="918.9" cy="943.4" r="8.6" fill="#ff8000"/>
<circle cx="1094.7" cy="934" r="8.6" fill="#00be00"/>
<circle cx="918.9" cy="1101.6" r="8.6" fill="#ff8000"/>
<circle cx="1094.7" cy="1112" r="8.6" fill="#00be00"/>
<circle cx="918.9" cy="1052.6" r="8.6" fill="#ff8000"/>
<circle cx="1094.7" cy="1110.5" r="8.6" fill="#00be00"/>
<circle cx="918.9" cy="1027.78" r="8.6" fill="#ff8000"/>
<circle cx="1094.7" cy="1101.3" r="8.6" fill="#00be00"/>
<circle cx="918.9" cy="941" r="8.6" fill="#ff8000"/>
<circle cx="1094.7" cy="1122.8" r="8.6" fill="#00be00"/>
<circle cx="918.9" cy="1045.8" r="8.6" fill="#ff8000"/>
<circle cx="1094.7" cy="999.5" r="8.6" fill="#00be00"/>
<circle cx="918.9" cy="1059.5" r="8.6" fill="#ff8000"/>
<circle cx="1094.7" cy="995" r="8.6" fill="#00be00"/>
<circle cx="918.9" cy="1064.4" r="8.6" fill="#ff8000"/>
<circle cx="1094.7" cy="1028.65" r="8.6" fill="#00be00"/>
<circle cx="918.9" cy="894.7" r="8.6" fill="#ff8000"/>
<circle cx="1094.7" cy="986.99" r="8.6" fill="#00be00"/>
<circle cx="918.9" cy="910" r="8.6" fill="#ff8000"/>
<circle cx="1094.7" cy="1039.21" r="8.6" fill="#00be00"/>
<circle cx="918.9" cy="911" r="8.6" fill="#ff8000"/>
<circle cx="1094.7" cy="1025.43" r="8.6" fill="#00be00"/>
<circle cx="918.9" cy="913.7" r="8.6" fill="#ff8000"/>
<circle cx="1094.7" cy="980.24" r="8.6" fill="#00be00"/>
<circle cx="918.9" cy="916.9" r="8.6" fill="#ff8000"/>
<circle cx="1094.7" cy="1040.7" r="8.6" fill="#00be00"/>
<circle cx="918.9" cy="920.4" r="8.6" fill="#ff8000"/>
<circle cx="1094.7" cy="982.66" r="8.6" fill="#00be00"/>
<circle cx="918.9" cy="920.8" r="8.6" fill="#ff8000"/>
<circle cx="1094.7" cy="936.9" r="8.6" fill="#00be00"/>
<circle cx="918.9" cy="930.9" r="8.6" fill="#ff8000"/>
<circle cx="1094.7" cy="1009.2" r="8.6" fill="#00be00"/>
<circle cx="918.9" cy="932" r="8.6" fill="#ff8000"/>
<circle cx="1094.7" cy="984.86" r="8.6" fill="#00be00"/>
<circle cx="918.9" cy="932" r="8.6" fill="#ff8000"/>
<circle cx="1094.7" cy="1080.3" r="8.6" fill="#00be00"/>
<circle cx="918.9" cy="934.1" r="8.6" fill="#ff8000"/>
<circle cx="1094.7" cy="986.25" r="8.6" fill="#00be00"/>
<circle cx="918.9" cy="934.1" r="8.6" fill="#ff8000"/>
<circle cx="1094.7" cy="977.06" r="8.6" fill="#00be00"/>
<circle cx="918.9" cy="935.5" r="8.6" fill="#ff8000"/>
<circle cx="1094.7" cy="1039.21" r="8.6" fill="#00be00"/>
<circle cx="918.9" cy="935.5" r="8.6" fill="#ff8000"/>
<circle cx="1094.7" cy="1059.6" r="8.6" fill="#00be00"/>
<circle cx="918.9" cy="941" r="8.6" fill="#ff8000"/>
<circle cx="1094.7" cy="1031.68" r="8.6" fill="#00be00"/>
<circle cx="918.9" cy="941.3" r="8.6" fill="#ff8000"/>
<circle cx="1094.7" cy="1064.7" r="8.6" fill="#00be00"/>
<circle cx="918.9" cy="941.5" r="8.6" fill="#ff8000"/>
<circle cx="1094.7" cy="1013.25" r="8.6" fill="#00be00"/>
<circle cx="918.9" cy="945.4" r="8.6" fill="#ff8000"/>
<circle cx="1094.7" cy="1022.04" r="8.6" fill="#00be00"/>
<circle cx="918.9" cy="956.4" r="8.6" fill="#ff8000"/>
<circle cx="1094.7" cy="1012.21" r="8.6" fill="#00be00"/>
<circle cx="918.9" cy="956.4" r="8.6" fill="#ff8000"/>
<circle cx="1094.7" cy="982.85" r="8.6" fill="#00be00"/>
<circle cx="918.9" cy="958.9" r="8.6" fill="#ff8000"/>
<circle cx="1094.7" cy="1010.9" r="8.6" fill="#00be00"/>
<circle cx="918.9" cy="964.7" r="8.6" fill="#ff8000"/>
<circle cx="1094.7" cy="1055.3" r="8.6" fill="#00be00"/>
<circle cx="918.9" cy="965.4" r="8.6" fill="#ff8000"/>
<circle cx="1094.7" cy="1025.43" r="8.6" fill="#00be00"/>
<circle cx="918.9" cy="965.4" r="8.6" fill="#ff8000"/>
<circle cx="1094.7" cy="1022.04" r="8.6" fill="#00be00"/>
<circle cx="918.9" cy="968" r="8.6" fill="#ff8000"/>
<circle cx="1094.7" cy="1076.4" r="8.6" fill="#00be00"/>
<circle cx="918.9" cy="970.2" r="8.6" fill="#ff8000"/>
<circle cx="1094.7" cy="1080.8" r="8.6" fill="#00be00"/>
<circle cx="918.9" cy="970.3" r="8.6" fill="#ff8000"/>
<circle cx="1094.7" cy="976.62" r="8.6" fill="#00be00"/>
<circle cx="918.9" cy="970.5" r="8.6" fill="#ff8000"/>
<circle cx="1094.7" cy="1076.4" r="8.6" fill="#00be00"/>
<circle cx="918.9" cy="970.5" r="8.6" fill="#ff8000"/>
<circle cx="1094.7" cy="986.99" r="8.6" fill="#00be00"/>
<circle cx="918.9" cy="970.7" r="8.6" fill="#ff8000"/>
<circle cx="1094.7" cy="1034.5" r="8.6" fill="#00be00"/>
<circle cx="918.9" cy="980.5" r="8.6" fill="#ff8000"/>
<circle cx="1094.7" cy="952.9" r="8.6" fill="#00be00"/>
<circle cx="918.9" cy="982.5" r="8.6" fill="#ff8000"/>
<circle cx="1094.7" cy="1037.04" r="8.6" fill="#00be00"/>
<circle cx="918.9" cy="984.9" r="8.6" fill="#ff8000"/>
<circle cx="1094.7" cy="1055.1" r="8.6" fill="#00be00"/>
<circle cx="918.9" cy="987.4" r="8.6" fill="#ff8000"/>
<circle cx="1094.7" cy="986.21" r="8.6" fill="#00be00"/>
<circle cx="918.9" cy="987.4" r="8.6" fill="#ff8000"/>
<circle cx="1094.7" cy="1069.6" r="8.6" fill="#00be00"/>
<circle cx="918.9" cy="987.9" r="8.6" fill="#ff8000"/>
<circle cx="1094.7" cy="1018.5" r="8.6" fill="#00be00"/>
<circle cx="918.9" cy="987.9" r="8.6" fill="#ff8000"/>
<circle cx="1094.7" cy="1018.5" r="8.6" fill="#00be00"/>
<circle cx="918.9" cy="989.8" r="8.6" fill="#ff8000"/>
<circle cx="1094.7" cy="972.7" r="8.6" fill="#00be00"/>
<circle cx="918.9" cy="989.8" r="8.6" fill="#ff8000"/>
<circle cx="1094.7" cy="968.2" r="8.6" fill="#00be00"/>
<circle cx="918.9" cy="994.7" r="8.6" fill="#ff8000"/>
<circle cx="1094.7" cy="984.76" r="8.6" fill="#00be00"/>
<circle cx="918.9" cy="1007" r="8.6" fill="#ff8000"/>
<circle cx="1094.7" cy="1031.68" r="8.6" fill="#00be00"/>
<circle cx="918.9" cy="1008.5" r="8.6" fill="#ff8000"/>
<circle cx="1094.7" cy="1075.4" r="8.6" fill="#00be00"/>
<circle cx="918.9" cy="1008.5" r="8.6" fill="#ff8000"/>
<circle cx="1094.7" cy="1037.04" r="8.6" fill="#00be00"/>
<circle cx="918.9" cy="1008.9" r="8.6" fill="#ff8000"/>
<circle cx="1094.7" cy="1012.29" r="8.6" fill="#00be00"/>
<circle cx="918.9" cy="1012.9" r="8.6" fill="#ff8000"/>
<circle cx="1094.7" cy="973.31" r="8.6" fill="#00be00"/>
<circle cx="918.9" cy="1023.2" r="8.6" fill="#ff8000"/>
<circle cx="1094.7" cy="1034.5" r="8.6" fill="#00be00"/>
<circle cx="918.9" cy="1023.7" r="8.6" fill="#ff8000"/>
<circle cx="1094.7" cy="969" r="8.6" fill="#00be00"/>
<circle cx="918.9" cy="1028.07" r="8.6" fill="#ff8000"/>
<circle cx="1094.7" cy="968.5" r="8.6" fill="#00be00"/>
<circle cx="918.9" cy="1031.36" r="8.6" fill="#ff8000"/>
<circle cx="1094.7" cy="1051.6" r="8.6" fill="#00be00"/>
<circle cx="918.9" cy="1031.49" r="8.6" fill="#ff8000"/>
<circle cx="1094.7" cy="1013.27" r="8.6" fill="#00be00"/>
<circle cx="918.9" cy="1033.71" r="8.6" fill="#ff8000"/>
<circle cx="1094.7" cy="979.94" r="8.6" fill="#00be00"/>
<circle cx="918.9" cy="1033.73" r="8.6" fill="#ff8000"/>
<circle cx="1094.7" cy="1010.72" r="8.6" fill="#00be00"/>
<circle cx="918.9" cy="932" r="8.6" fill="#ff8000"/>
<circle cx="1094.7" cy="1003" r="8.6" fill="#00be00"/>
<circle cx="918.9" cy="941" r="8.6" fill="#ff8000"/>
<circle cx="1094.7" cy="1018" r="8.6" fill="#00be00"/>
<circle cx="918.9" cy="950" r="8.6" fill="#ff8000"/>
<circle cx="1094.7" cy="1043" r="8.6" fill="#00be00"/>
<circle cx="918.9" cy="958" r="8.6" fill="#ff8000"/>
<circle cx="1094.7" cy="993" r="8.6" fill="#00be00"/>
<circle cx="918.9" cy="972" r="8.6" fill="#ff8000"/>
<circle cx="1094.7" cy="1055" r="8.6" fill="#00be00"/>
<circle cx="918.9" cy="983" r="8.6" fill="#ff8000"/>
<circle cx="1094.7" cy="1032" r="8.6" fill="#00be00"/>
<circle cx="918.9" cy="993" r="8.6" fill="#ff8000"/>
<circle cx="1094.7" cy="1062" r="8.6" fill="#00be00"/>
<circle cx="918.9" cy="1003" r="8.6" fill="#ff8000"/>
<circle cx="1094.7" cy="1047" r="8.6" fill="#00be00"/>
<circle cx="918.9" cy="1012" r="8.6" fill="#ff8000"/>
<circle cx="1094.7" cy="1070" r="8.6" fill="#00be00"/>
<circle cx="918.9" cy="925" r="8.6" fill="#ff8000"/>
<circle cx="1094.7" cy="985" r="8.6" fill="#00be00"/>
<circle cx="918.9" cy="817.9" r="8.6" fill="#ff8000"/>
<circle cx="918.9" cy="833.1" r="8.6" fill="#ff8000"/>
<circle cx="918.9" cy="869.6" r="8.6" fill="#ff8000"/>
<circle cx="918.9" cy="874.6" r="8.6" fill="#ff8000"/>
<circle cx="918.9" cy="893.1" r="8.6" fill="#ff8000"/>
<circle cx="918.9" cy="894.7" r="8.6" fill="#ff8000"/>
<circle cx="918.9" cy="910" r="8.6" fill="#ff8000"/>
<circle cx="918.9" cy="911" r="8.6" fill="#ff8000"/>
<circle cx="918.9" cy="913.7" r="8.6" fill="#ff8000"/>
<circle cx="918.9" cy="916.9" r="8.6" fill="#ff8000"/>
<circle cx="918.9" cy="920.4" r="8.6" fill="#ff8000"/>
<circle cx="918.9" cy="920.8" r="8.6" fill="#ff8000"/>
<circle cx="918.9" cy="930.9" r="8.6" fill="#ff8000"/>
<circle cx="918.9" cy="932" r="8.6" fill="#ff8000"/>
<circle cx="918.9" cy="932" r="8.6" fill="#ff8000"/>
<circle cx="918.9" cy="934.1" r="8.6" fill="#ff8000"/>
<circle cx="918.9" cy="934.1" r="8.6" fill="#ff8000"/>
<circle cx="918.9" cy="935.5" r="8.6" fill="#ff8000"/>
<circle cx="918.9" cy="935.5" r="8.6" fill="#ff8000"/>
<circle cx="918.9" cy="941" r="8.6" fill="#ff8000"/>
<circle cx="918.9" cy="941" r="8.6" fill="#ff8000"/>
<circle cx="918.9" cy="941.3" r="8.6" fill="#ff8000"/>
<circle cx="918.9" cy="941.5" r="8.6" fill="#ff8000"/>
<circle cx="918.9" cy="943.4" r="8.6" fill="#ff8000"/>
<circle cx="918.9" cy="945.4" r="8.6" fill="#ff8000"/>
<circle cx="918.9" cy="948.4" r="8.6" fill="#ff8000"/>
<circle cx="918.9" cy="956.4" r="8.6" fill="#ff8000"/>
<circle cx="918.9" cy="956.4" r="8.6" fill="#ff8000"/>
<circle cx="918.9" cy="958.9" r="8.6" fill="#ff8000"/>
<circle cx="918.9" cy="964.7" r="8.6" fill="#ff8000"/>
<circle cx="918.9" cy="965.4" r="8.6" fill="#ff8000"/>
<circle cx="918.9" cy="965.4" r="8.6" fill="#ff8000"/>
<circle cx="918.9" cy="968" r="8.6" fill="#ff8000"/>
<circle cx="918.9" cy="968" r="8.6" fill="#ff8000"/>
<circle cx="918.9" cy="970.2" r="8.6" fill="#ff8000"/>
<circle cx="918.9" cy="970.3" r="8.6" fill="#ff8000"/>
<circle cx="918.9" cy="970.5" r="8.6" fill="#ff8000"/>
<circle cx="918.9" cy="970.5" r="8.6" fill="#ff8000"/>
<circle cx="918.9" cy="970.7" r="8.6" fill="#ff8000"/>
<circle cx="918.9" cy="980.5" r="8.6" fill="#ff8000"/>
<circle cx="918.9" cy="982.5" r="8.6" fill="#ff8000"/>
<circle cx="918.9" cy="984.9" r="8.6" fill="#ff8000"/>
<circle cx="918.9" cy="987.4" r="8.6" fill="#ff8000"/>
<circle cx="918.9" cy="987.4" r="8.6" fill="#ff8000"/>
<circle cx="918.9" cy="987.9" r="8.6" fill="#ff8000"/>
<circle cx="918.9" cy="987.9" r="8.6" fill="#ff8000"/>
<circle cx="918.9" cy="989.8" r="8.6" fill="#ff8000"/>
<circle cx="918.9" cy="989.8" r="8.6" fill="#ff8000"/>
<circle cx="918.9" cy="994.7" r="8.6" fill="#ff8000"/>
<circle cx="918.9" cy="1007" r="8.6" fill="#ff8000"/>
<circle cx="918.9" cy="1008.5" r="8.6" fill="#ff8000"/>
<circle cx="918.9" cy="1008.5" r="8.6" fill="#ff8000"/>
<circle cx="918.9" cy="1008.9" r="8.6" fill="#ff8000"/>
<circle cx="918.9" cy="1012.9" r="8.6" fill="#ff8000"/>
<circle cx="918.9" cy="1023.2" r="8.6" fill="#ff8000"/>
<circle cx="918.9" cy="1023.7" r="8.6" fill="#ff8000"/>
<circle cx="918.9" cy="1027.78" r="8.6" fill="#ff8000"/>
<circle cx="918.9" cy="1028.07" r="8.6" fill="#ff8000"/>
<circle cx="918.9" cy="1031.36" r="8.6" fill="#ff8000"/>
<circle cx="918.9" cy="1031.49" r="8.6" fill="#ff8000"/>
<circle cx="918.9" cy="1033.71" r="8.6" fill="#ff8000"/>
<circle cx="918.9" cy="1033.73" r="8.6" fill="#ff8000"/>
<circle cx="918.9" cy="1045.8" r="8.6" fill="#ff8000"/>
<circle cx="918.9" cy="1052.6" r="8.6" fill="#ff8000"/>
<circle cx="918.9" cy="1059.5" r="8.6" fill="#ff8000"/>
<circle cx="918.9" cy="1064.4" r="8.6" fill="#ff8000"/>
<circle cx="918.9" cy="1101.6" r="8.6" fill="#ff8000"/>
<circle cx="1094.7" cy="906.3" r="8.6" fill="#00be00"/>
<circle cx="1094.7" cy="921.9" r="8.6" fill="#00be00"/>
<circle cx="1094.7" cy="934" r="8.6" fill="#00be00"/>
<circle cx="1094.7" cy="936.9" r="8.6" fill="#00be00"/>
<circle cx="1094.7" cy="952.9" r="8.6" fill="#00be00"/>
<circle cx="1094.7" cy="956.4" r="8.6" fill="#00be00"/>
<circle cx="1094.7" cy="967.4" r="8.6" fill="#00be00"/>
<circle cx="1094.7" cy="968.2" r="8.6" fill="#00be00"/>
<circle cx="1094.7" cy="968.5" r="8.6" fill="#00be00"/>
<circle cx="1094.7" cy="969" r="8.6" fill="#00be00"/>
<circle cx="1094.7" cy="972.7" r="8.6" fill="#00be00"/>
<circle cx="1094.7" cy="973.31" r="8.6" fill="#00be00"/>
<circle cx="1094.7" cy="976.62" r="8.6" fill="#00be00"/>
<circle cx="1094.7" cy="977.06" r="8.6" fill="#00be00"/>
<circle cx="1094.7" cy="979.94" r="8.6" fill="#00be00"/>
<circle cx="1094.7" cy="980.24" r="8.6" fill="#00be00"/>
<circle cx="1094.7" cy="982.66" r="8.6" fill="#00be00"/>
<circle cx="1094.7" cy="982.85" r="8.6" fill="#00be00"/>
<circle cx="1094.7" cy="984.76" r="8.6" fill="#00be00"/>
<circle cx="1094.7" cy="984.86" r="8.6" fill="#00be00"/>
<circle cx="1094.7" cy="986.21" r="8.6" fill="#00be00"/>
<circle cx="1094.7" cy="986.25" r="8.6" fill="#00be00"/>
<circle cx="1094.7" cy="986.99" r="8.6" fill="#00be00"/>
<circle cx="1094.7" cy="986.99" r="8.6" fill="#00be00"/>
<circle cx="1094.7" cy="995" r="8.6" fill="#00be00"/>
<circle cx="1094.7" cy="999.5" r="8.6" fill="#00be00"/>
<circle cx="1094.7" cy="1008.9" r="8.6" fill="#00be00"/>
<circle cx="1094.7" cy="1009.2" r="8.6" fill="#00be00"/>
<circle cx="1094.7" cy="1010.72" r="8.6" fill="#00be00"/>
<circle cx="1094.7" cy="1010.9" r="8.6" fill="#00be00"/>
<circle cx="1094.7" cy="1012.21" r="8.6" fill="#00be00"/>
<circle cx="1094.7" cy="1012.29" r="8.6" fill="#00be00"/>
<circle cx="1094.7" cy="1013.25" r="8.6" fill="#00be00"/>
<circle cx="1094.7" cy="1013.27" r="8.6" fill="#00be00"/>
<circle cx="1094.7" cy="1018.5" r="8.6" fill="#00be00"/>
<circle cx="1094.7" cy="1018.5" r="8.6" fill="#00be00"/>
<circle cx="1094.7" cy="1022.04" r="8.6" fill="#00be00"/>
<circle cx="1094.7" cy="1022.04" r="8.6" fill="#00be00"/>
<circle cx="1094.7" cy="1025.43" r="8.6" fill="#00be00"/>
<circle cx="1094.7" cy="1025.43" r="8.6" fill="#00be00"/>
<circle cx="1094.7" cy="1028.65" r="8.6" fill="#00be00"/>
<circle cx="1094.7" cy="1028.65" r="8.6" fill="#00be00"/>
<circle cx="1094.7" cy="1031.68" r="8.6" fill="#00be00"/>
<circle cx="1094.7" cy="1031.68" r="8.6" fill="#00be00"/>
<circle cx="1094.7" cy="1034.5" r="8.6" fill="#00be00"/>
<circle cx="1094.7" cy="1034.5" r="8.6" fill="#00be00"/>
<circle cx="1094.7" cy="1037.04" r="8.6" fill="#00be00"/>
<circle cx="1094.7" cy="1037.04" r="8.6" fill="#00be00"/>
<circle cx="1094.7" cy="1039.21" r="8.6" fill="#00be00"/>
<circle cx="1094.7" cy="1039.21" r="8.6" fill="#00be00"/>
<circle cx="1094.7" cy="1040.7" r="8.6" fill="#00be00"/>
<circle cx="1094.7" cy="1051.6" r="8.6" fill="#00be00"/>
<circle cx="1094.7" cy="1055.1" r="8.6" fill="#00be00"/>
<circle cx="1094.7" cy="1055.3" r="8.6" fill="#00be00"/>
<circle cx="1094.7" cy="1059.6" r="8.6" fill="#00be00"/>
<circle cx="1094.7" cy="1064.7" r="8.6" fill="#00be00"/>
<circle cx="1094.7" cy="1069.6" r="8.6" fill="#00be00"/>
<circle cx="1094.7" cy="1075.4" r="8.6" fill="#00be00"/>
<circle cx="1094.7" cy="1076.4" r="8.6" fill="#00be00"/>
<circle cx="1094.7" cy="1076.4" r="8.6" fill="#00be00"/>
<circle cx="1094.7" cy="1079.8" r="8.6" fill="#00be00"/>
<circle cx="1094.7" cy="1080.3" r="8.6" fill="#00be00"/>
<circle cx="1094.7" cy="1080.8" r="8.6" fill="#00be00"/>
<circle cx="1094.7" cy="1084.7" r="8.6" fill="#00be00"/>
<circle cx="1094.7" cy="1089.6" r="8.6" fill="#00be00"/>
<circle cx="1094.7" cy="1101.3" r="8.6" fill="#00be00"/>
<circle cx="1094.7" cy="1110.5" r="8.6" fill="#00be00"/>
<circle cx="1094.7" cy="1112" r="8.6" fill="#00be00"/>
<circle cx="1094.7" cy="1122.8" r="8.6" fill="#00be00"/>
<line x1="819.4" y1="774.4" x2="819.4" y2="1149.5" stroke="#000" stroke-width="3.8"/>
<line x1="808.5" y1="1147.6" x2="1197" y2="1147.6" stroke="#000" stroke-width="3.8"/>
<line x1="808.5" y1="1147.6" x2="819.4" y2="1147.6" stroke="#000" stroke-width="3.8"/>
<text x="802.5" y="1158.6" font-size="30.7" text-anchor="end" stroke="#000" stroke-width="0.4">0</text>
<line x1="808.5" y1="1054.7" x2="819.4" y2="1054.7" stroke="#000" stroke-width="3.8"/>
<text x="802.5" y="1065.7" font-size="30.7" text-anchor="end" stroke="#000" stroke-width="0.4">2</text>
<line x1="808.5" y1="961.8" x2="819.4" y2="961.8" stroke="#000" stroke-width="3.8"/>
<text x="802.5" y="972.8" font-size="30.7" text-anchor="end" stroke="#000" stroke-width="0.4">4</text>
<line x1="808.5" y1="868.9" x2="819.4" y2="868.9" stroke="#000" stroke-width="3.8"/>
<text x="802.5" y="879.9" font-size="30.7" text-anchor="end" stroke="#000" stroke-width="0.4">6</text>
<line x1="808.5" y1="776" x2="819.4" y2="776" stroke="#000" stroke-width="3.8"/>
<text x="802.5" y="787" font-size="30.7" text-anchor="end" stroke="#000" stroke-width="0.4">8</text>
<line x1="918.9" y1="1147.6" x2="918.9" y2="1158.5" stroke="#000" stroke-width="3.8"/>
<text transform="translate(931.4 1186.1) rotate(-45) scale(1.0150 1)" font-size="30.7" text-anchor="end" stroke="#000" stroke-width="0.4">NB</text>
<line x1="1094.7" y1="1147.6" x2="1094.7" y2="1158.5" stroke="#000" stroke-width="3.8"/>
<text transform="translate(1107.2 1186.1) rotate(-45) scale(1.0150 1)" font-size="30.7" text-anchor="end" stroke="#000" stroke-width="0.4">OS</text>
<text transform="translate(729.5 960.3) rotate(-90)" font-size="30.5" text-anchor="middle" stroke="#000" stroke-width="0.4">Relative miR-601</text>
<text transform="translate(767.9 955.4) rotate(-90) scale(1.0280 1)" font-size="30.5" text-anchor="middle" stroke="#000" stroke-width="0.4">expression</text>
</g>
<g id="pf">
<line x1="1434.7" y1="766.5" x2="1434.7" y2="1142.1" stroke="#000" stroke-width="3.7"/>
<line x1="1424.1" y1="1140.2" x2="1882.48" y2="1140.2" stroke="#000" stroke-width="3.7"/>
<line x1="1424.1" y1="1140.2" x2="1434.7" y2="1140.2" stroke="#000" stroke-width="3.7"/>
<text x="1419.6" y="1149.1" font-size="28.5" text-anchor="end" stroke="#000" stroke-width="0.4">0</text>
<line x1="1424.1" y1="971.35" x2="1434.7" y2="971.35" stroke="#000" stroke-width="3.7"/>
<text x="1419.6" y="980.25" font-size="28.5" text-anchor="end" stroke="#000" stroke-width="0.4">50</text>
<line x1="1424.1" y1="802.5" x2="1434.7" y2="802.5" stroke="#000" stroke-width="3.7"/>
<text x="1419.6" y="811.4" font-size="28.5" text-anchor="end" stroke="#000" stroke-width="0.4">100</text>
<line x1="1434.7" y1="1140.2" x2="1434.7" y2="1150.8" stroke="#000" stroke-width="3.7"/>
<text x="1434.7" y="1183" font-size="29.5" text-anchor="middle" stroke="#000" stroke-width="0.4">0</text>
<line x1="1583.36" y1="1140.2" x2="1583.36" y2="1150.8" stroke="#000" stroke-width="3.7"/>
<text x="1583.36" y="1183" font-size="29.5" text-anchor="middle" stroke="#000" stroke-width="0.4">20</text>
<line x1="1732.02" y1="1140.2" x2="1732.02" y2="1150.8" stroke="#000" stroke-width="3.7"/>
<text x="1732.02" y="1183" font-size="29.5" text-anchor="middle" stroke="#000" stroke-width="0.4">40</text>
<line x1="1880.68" y1="1140.2" x2="1880.68" y2="1150.8" stroke="#000" stroke-width="3.7"/>
<text x="1880.68" y="1183" font-size="29.5" text-anchor="middle" stroke="#000" stroke-width="0.4">60</text>
<line x1="1880.68" y1="966.18" x2="1880.68" y2="976.68" stroke="#000" stroke-width="3.6"/>
<path d="M1434.7,802.5 H1457 V812.73 H1479.3 V822.96 H1501.6 V833.19 H1509.03 V843.42 H1523.9 V884.34 H1538.76 V894.57 H1553.63 V904.8 H1561.06 V915.03 H1568.49 V935.49 H1583.36 V945.72 H1761.75 V955.95 H1769.18 V966.18 H1882.48" stroke="#00be00" stroke-width="3.6" fill="none" stroke-linejoin="miter"/>
<path d="M1434.7,802.5 H1494.16 V812.73 H1531.33 V822.96 H1538.76 V833.19 H1546.2 V843.42 H1568.49 V853.65 H1583.36 V863.88 H1613.09 V874.11 H1732.02 V894.57 H1880.68" stroke="#ff8000" stroke-width="3.6" fill="none" stroke-linejoin="miter"/>
<line x1="1880.68" y1="887.17" x2="1880.68" y2="894.67" stroke="#000" stroke-width="3.6"/>
<line x1="1658.9" y1="779.6" x2="1699.4" y2="779.6" stroke="#ff8000" stroke-width="3.6"/>
<line x1="1679.15" y1="772.2" x2="1679.15" y2="779.1" stroke="#000" stroke-width="3.6"/>
<text transform="translate(1722 791.2) scale(1.0100 1)" font-size="30.5" stroke="#000" stroke-width="0.4">High-miR-601</text>
<line x1="1658.9" y1="830" x2="1699.4" y2="830" stroke="#00be00" stroke-width="3.6"/>
<line x1="1679.15" y1="822.6" x2="1679.15" y2="829.5" stroke="#000" stroke-width="3.6"/>
<text transform="translate(1722 841.6) scale(1.0100 1)" font-size="30.5" stroke="#000" stroke-width="0.4">low-miR-601</text>
<text transform="translate(1660.1 1221) scale(1.0200 1)" font-size="33.5" text-anchor="middle" stroke="#000" stroke-width="0.9">Months</text>
<text transform="translate(1450.5 1123.4) scale(1.0550 1)" font-size="33.2" stroke="#000" stroke-width="0.4">p&lt;0.05</text>
<text transform="translate(1355.3 952.7) rotate(-90) scale(1.0120 1)" font-size="30.5" text-anchor="middle" stroke="#000" stroke-width="0.4">Percent survival</text>
</g>
</svg>
</body>
</html>
